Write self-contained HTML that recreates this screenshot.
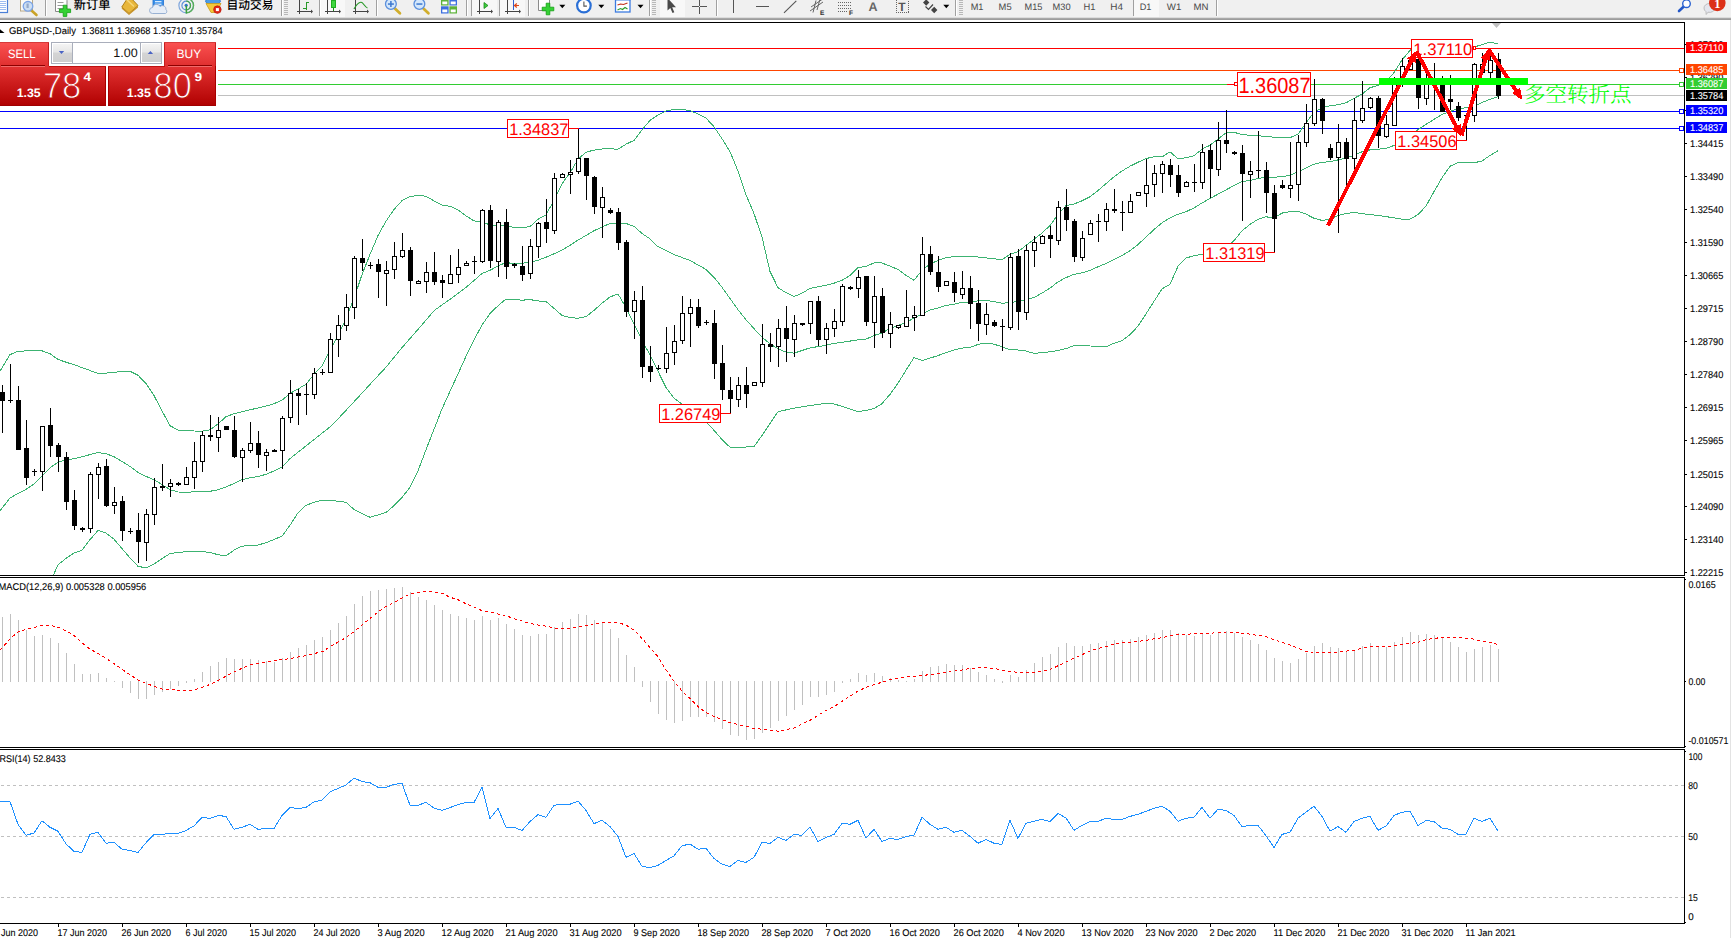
<!DOCTYPE html>
<html><head><meta charset="utf-8"><title>GBPUSD-,Daily</title><style>html,body{margin:0;padding:0;background:#fff;overflow:hidden}svg{display:block}</style></head><body>
<svg width="1731" height="938" viewBox="0 0 1731 938" font-family="'Liberation Sans', sans-serif" shape-rendering="crispEdges" text-rendering="geometricPrecision">
<defs><linearGradient id="gTab" x1="0" y1="0" x2="0" y2="1"><stop offset="0" stop-color="#fb5252"/><stop offset="1" stop-color="#df2e2e"/></linearGradient><linearGradient id="gBig" x1="0" y1="0" x2="0" y2="1"><stop offset="0" stop-color="#e23232"/><stop offset="1" stop-color="#b00000"/></linearGradient><linearGradient id="gBtn" x1="0" y1="0" x2="0" y2="1"><stop offset="0" stop-color="#f4f4f4"/><stop offset="0.45" stop-color="#e6e6e6"/><stop offset="0.5" stop-color="#d4d4d4"/><stop offset="1" stop-color="#cfcfcf"/></linearGradient><linearGradient id="gBigU" gradientUnits="userSpaceOnUse" x1="0" y1="66.4" x2="0" y2="106"><stop offset="0" stop-color="#e23232"/><stop offset="1" stop-color="#b00000"/></linearGradient><clipPath id="cMain"><rect x="0" y="23" width="1684" height="552"/></clipPath><clipPath id="cAll"><rect x="0" y="0" width="1731" height="938"/></clipPath></defs>
<rect width="1731" height="938" fill="#fff"/>
<g clip-path="url(#cMain)">
<rect x="0" y="48" width="1684" height="1" fill="#ff0000"/>
<rect x="0" y="70" width="1684" height="1" fill="#ff4500"/>
<rect x="0" y="84" width="1684" height="1" fill="#32cd32"/>
<rect x="0" y="95" width="1684" height="1" fill="#c0c0c0"/>
<rect x="0" y="111" width="1684" height="1" fill="#0000ff"/>
<rect x="0" y="128" width="1684" height="1" fill="#0000ff"/>
<polyline fill="none" stroke="#3cb371" stroke-width="1" points="0.0,371.1 2.0,367.8 10.0,354.6 18.0,351.3 26.0,350.9 34.0,350.5 42.0,350.8 50.0,353.7 58.0,359.4 66.0,362.2 74.0,364.7 82.0,367.6 90.0,370.5 98.0,373.5 106.0,373.1 114.0,372.2 122.0,371.7 130.0,371.3 138.0,375.2 146.0,383.6 154.0,395.6 162.0,410.9 170.0,425.7 178.0,430.1 186.0,430.7 194.0,431.0 202.0,431.2 210.0,429.8 218.0,424.0 226.0,416.7 234.0,413.7 242.0,411.7 250.0,409.8 258.0,408.0 266.0,406.1 274.0,403.7 282.0,400.2 290.0,393.4 298.0,389.0 306.0,384.3 314.0,374.3 322.0,366.0 330.0,350.6 338.0,335.7 346.0,318.6 354.0,298.2 362.0,274.7 370.0,254.4 378.0,235.6 386.0,221.2 394.0,209.5 402.0,200.6 410.0,196.6 418.0,195.3 426.0,196.3 434.0,200.8 442.0,205.2 450.0,206.3 458.0,209.8 466.0,215.8 474.0,220.9 482.0,222.1 490.0,224.9 498.0,225.3 506.0,225.7 514.0,227.5 522.0,227.6 530.0,226.6 538.0,219.3 546.0,214.9 554.0,200.2 562.0,183.8 570.0,172.8 578.0,159.3 586.0,152.2 594.0,150.1 602.0,149.0 610.0,148.9 618.0,149.1 626.0,144.2 634.0,140.4 642.0,129.9 650.0,120.4 658.0,114.9 666.0,111.1 674.0,109.4 682.0,109.2 690.0,110.7 698.0,113.8 706.0,118.1 714.0,126.7 722.0,138.7 730.0,151.7 738.0,171.0 746.0,194.7 754.0,213.6 762.0,237.0 770.0,271.4 778.0,287.7 786.0,292.7 794.0,296.5 802.0,293.2 810.0,288.4 818.0,286.9 826.0,285.2 834.0,283.2 842.0,280.3 850.0,275.5 858.0,267.7 866.0,266.4 874.0,262.9 882.0,263.0 890.0,266.1 898.0,269.4 906.0,275.3 914.0,280.3 922.0,270.4 930.0,264.1 938.0,260.4 946.0,257.8 954.0,256.6 962.0,256.2 970.0,256.4 978.0,257.0 986.0,257.9 994.0,258.8 1002.0,259.8 1010.0,254.3 1018.0,251.6 1026.0,245.5 1034.0,239.3 1042.0,233.0 1050.0,225.6 1058.0,214.5 1066.0,205.6 1074.0,204.0 1082.0,200.8 1090.0,196.7 1098.0,190.5 1106.0,183.6 1114.0,176.8 1122.0,171.0 1130.0,166.2 1138.0,162.3 1146.0,158.6 1154.0,156.7 1162.0,157.0 1170.0,151.8 1178.0,158.8 1186.0,157.8 1194.0,155.8 1202.0,149.1 1210.0,145.3 1218.0,139.1 1226.0,132.8 1234.0,132.2 1242.0,134.7 1250.0,135.2 1258.0,135.7 1266.0,136.5 1274.0,137.2 1282.0,137.7 1290.0,137.7 1298.0,134.1 1306.0,123.2 1314.0,111.9 1322.0,107.8 1330.0,105.8 1338.0,104.7 1346.0,102.8 1354.0,98.4 1362.0,94.1 1370.0,87.7 1378.0,85.5 1386.0,81.5 1394.0,72.6 1402.0,60.0 1410.0,50.3 1418.0,45.7 1426.0,44.4 1434.0,44.8 1442.0,45.3 1450.0,45.7 1458.0,46.2 1466.0,46.7 1474.0,47.1 1482.0,44.6 1490.0,42.2 1498.0,43.9"/>
<polyline fill="none" stroke="#3cb371" stroke-width="1" points="0.0,510.9 2.0,508.3 10.0,497.9 18.0,493.6 26.0,489.3 34.0,483.9 42.0,475.9 50.0,467.9 58.0,462.2 66.0,459.9 74.0,458.7 82.0,456.7 90.0,454.6 98.0,452.5 106.0,453.7 114.0,456.7 122.0,461.4 130.0,466.4 138.0,472.3 146.0,476.4 154.0,479.8 162.0,484.5 170.0,489.6 178.0,492.0 186.0,492.2 194.0,491.9 202.0,491.6 210.0,491.3 218.0,489.8 226.0,486.9 234.0,483.5 242.0,479.7 250.0,477.8 258.0,476.6 266.0,474.3 274.0,471.0 282.0,467.2 290.0,458.6 330.0,426.9 338.0,418.9 346.0,410.4 354.0,401.8 362.0,393.1 370.0,384.4 378.0,375.8 386.0,367.2 394.0,357.4 402.0,347.6 410.0,338.5 418.0,329.4 426.0,320.1 434.0,310.7 442.0,304.9 450.0,299.3 458.0,293.3 466.0,287.3 474.0,280.6 482.0,273.5 490.0,270.3 498.0,266.0 506.0,262.4 514.0,263.8 522.0,263.3 530.0,262.2 538.0,260.3 546.0,257.2 554.0,253.8 562.0,250.1 570.0,245.4 578.0,240.1 586.0,235.5 594.0,230.8 602.0,226.9 610.0,223.6 618.0,222.8 626.0,223.5 634.0,226.3 642.0,233.4 650.0,238.9 658.0,246.7 666.0,250.5 674.0,254.5 682.0,257.5 690.0,260.5 698.0,264.9 706.0,269.4 714.0,277.3 722.0,287.3 730.0,298.5 738.0,309.7 746.0,319.8 754.0,328.6 762.0,337.3 770.0,343.7 778.0,348.8 786.0,352.1 794.0,353.2 802.0,350.5 810.0,347.9 818.0,346.6 826.0,345.3 834.0,343.4 842.0,342.3 850.0,341.1 858.0,339.8 866.0,339.1 874.0,335.5 882.0,332.9 890.0,328.5 898.0,325.5 906.0,322.5 914.0,318.0 922.0,314.2 930.0,310.0 938.0,307.9 946.0,305.5 954.0,304.2 962.0,302.4 970.0,302.4 978.0,300.9 986.0,300.4 994.0,301.6 1002.0,303.3 1010.0,302.4 1018.0,301.7 1026.0,300.0 1034.0,297.5 1042.0,293.1 1050.0,288.1 1058.0,281.9 1066.0,277.6 1074.0,274.3 1082.0,272.9 1090.0,270.5 1098.0,266.8 1106.0,263.5 1114.0,259.3 1122.0,255.6 1130.0,250.7 1138.0,244.5 1146.0,237.1 1154.0,229.6 1162.0,222.8 1170.0,217.9 1178.0,214.2 1186.0,211.7 1194.0,207.9 1202.0,203.0 1210.0,198.5 1218.0,194.2 1226.0,189.9 1234.0,185.5 1242.0,181.7 1250.0,180.4 1258.0,178.4 1266.0,177.4 1274.0,177.3 1282.0,176.6 1290.0,175.4 1298.0,171.7 1306.0,168.0 1314.0,164.2 1322.0,162.4 1330.0,161.6 1338.0,159.9 1346.0,157.9 1354.0,155.4 1362.0,151.8 1370.0,149.9 1378.0,149.3 1386.0,148.3 1394.0,145.5 1402.0,141.8 1410.0,136.9 1418.0,129.6 1426.0,124.4 1434.0,119.4 1442.0,114.4 1450.0,111.6 1458.0,108.5 1466.0,107.8 1474.0,106.0 1482.0,102.6 1490.0,99.2 1498.0,96.7"/>
<polyline fill="none" stroke="#3cb371" stroke-width="1" points="50.0,582.6 58.0,564.9 66.0,558.4 74.0,552.9 82.0,550.3 90.0,539.6 98.0,530.5 106.0,533.0 114.0,539.2 122.0,548.5 130.0,558.0 138.0,566.3 146.0,567.9 154.0,563.9 162.0,558.7 170.0,553.5 178.0,552.6 186.0,551.7 194.0,551.3 202.0,551.4 210.0,552.5 218.0,554.7 226.0,555.8 234.0,550.2 242.0,546.1 250.0,545.7 258.0,545.0 266.0,542.7 274.0,539.5 282.0,536.1 290.0,525.3 298.0,512.7 306.0,505.3 314.0,502.4 322.0,500.2 330.0,500.5 338.0,501.2 346.0,502.2 354.0,509.5 362.0,513.7 370.0,517.2 378.0,515.0 386.0,512.5 394.0,505.7 402.0,497.6 410.0,487.2 418.0,470.9 426.0,449.7 442.0,408.9 450.0,391.4 458.0,373.9 466.0,356.4 474.0,340.0 482.0,325.0 490.0,313.5 498.0,305.8 506.0,299.0 514.0,299.5 522.0,300.2 530.0,299.6 538.0,300.9 546.0,301.5 554.0,308.4 562.0,315.4 570.0,317.6 578.0,318.3 586.0,316.6 594.0,310.4 602.0,303.1 610.0,297.0 618.0,293.9 626.0,307.6 634.0,323.8 642.0,340.1 650.0,355.1 658.0,371.3 666.0,387.6 674.0,398.2 682.0,404.0 690.0,410.2 698.0,416.2 706.0,422.0 714.0,430.3 722.0,439.6 730.0,447.2 738.0,447.3 746.0,447.0 754.0,446.8 762.0,435.4 770.0,423.6 778.0,411.7 786.0,409.9 794.0,408.2 802.0,406.8 810.0,405.5 818.0,404.4 826.0,403.4 834.0,404.0 842.0,406.3 850.0,409.0 858.0,411.6 866.0,410.4 874.0,408.6 882.0,403.6 890.0,394.4 898.0,383.2 906.0,370.2 914.0,357.6 922.0,360.5 930.0,358.1 938.0,355.6 946.0,352.6 954.0,350.1 962.0,348.1 970.0,347.5 978.0,344.4 986.0,343.0 994.0,344.2 1002.0,346.7 1010.0,349.9 1018.0,350.0 1026.0,351.0 1034.0,353.4 1042.0,352.6 1050.0,351.8 1058.0,350.6 1066.0,348.6 1074.0,345.7 1082.0,345.5 1090.0,346.0 1098.0,346.2 1106.0,346.7 1114.0,343.3 1122.0,340.7 1130.0,334.7 1138.0,326.1 1146.0,313.9 1154.0,301.4 1162.0,288.9 1170.0,284.4 1178.0,266.3 1186.0,258.1 1194.0,255.6 1202.0,254.3 1210.0,253.5 1218.0,252.5 1226.0,248.1 1234.0,240.7 1242.0,230.7 1250.0,224.4 1258.0,219.3 1266.0,216.8 1274.0,217.9 1282.0,213.1 1290.0,211.7 1298.0,211.2 1306.0,214.1 1314.0,218.3 1322.0,220.4 1330.0,219.3 1338.0,215.6 1346.0,213.5 1354.0,212.5 1362.0,213.6 1370.0,214.6 1378.0,215.4 1386.0,216.6 1394.0,217.9 1402.0,219.1 1410.0,219.2 1418.0,214.6 1426.0,206.1 1434.0,191.6 1442.0,177.8 1450.0,166.3 1458.0,162.6 1466.0,162.1 1474.0,162.8 1482.0,161.0 1490.0,155.4 1498.0,150.7"/>
<rect x="2" y="385" width="1" height="48" fill="#000"/>
<rect x="0" y="392" width="5" height="9" fill="#000"/>
<rect x="10" y="364" width="1" height="39" fill="#000"/>
<rect x="8" y="400" width="5" height="1" fill="#000"/>
<rect x="18" y="386" width="1" height="64" fill="#000"/>
<rect x="16" y="400" width="5" height="50" fill="#000"/>
<rect x="26" y="420" width="1" height="65" fill="#000"/>
<rect x="24" y="448" width="5" height="30" fill="#000"/>
<rect x="34" y="469" width="1" height="7" fill="#000"/>
<rect x="32" y="471" width="5" height="1" fill="#000"/>
<rect x="42" y="426" width="1" height="65" fill="#000"/>
<rect x="40" y="426" width="5" height="46" fill="#000"/>
<rect x="41" y="427" width="3" height="44" fill="#fff"/>
<rect x="50" y="408" width="1" height="49" fill="#000"/>
<rect x="48" y="425" width="5" height="21" fill="#000"/>
<rect x="58" y="443" width="1" height="29" fill="#000"/>
<rect x="56" y="445" width="5" height="12" fill="#000"/>
<rect x="66" y="452" width="1" height="58" fill="#000"/>
<rect x="64" y="457" width="5" height="45" fill="#000"/>
<rect x="74" y="490" width="1" height="40" fill="#000"/>
<rect x="72" y="500" width="5" height="26" fill="#000"/>
<rect x="82" y="527" width="1" height="5" fill="#000"/>
<rect x="80" y="528" width="5" height="2" fill="#000"/>
<rect x="90" y="472" width="1" height="61" fill="#000"/>
<rect x="88" y="474" width="5" height="55" fill="#000"/>
<rect x="89" y="475" width="3" height="53" fill="#fff"/>
<rect x="98" y="463" width="1" height="36" fill="#000"/>
<rect x="96" y="467" width="5" height="8" fill="#000"/>
<rect x="97" y="468" width="3" height="6" fill="#fff"/>
<rect x="106" y="459" width="1" height="48" fill="#000"/>
<rect x="104" y="466" width="5" height="40" fill="#000"/>
<rect x="114" y="487" width="1" height="27" fill="#000"/>
<rect x="112" y="502" width="5" height="4" fill="#000"/>
<rect x="113" y="503" width="3" height="2" fill="#fff"/>
<rect x="122" y="496" width="1" height="45" fill="#000"/>
<rect x="120" y="501" width="5" height="30" fill="#000"/>
<rect x="130" y="528" width="1" height="6" fill="#000"/>
<rect x="128" y="531" width="5" height="1" fill="#000"/>
<rect x="138" y="513" width="1" height="50" fill="#000"/>
<rect x="136" y="530" width="5" height="12" fill="#000"/>
<rect x="146" y="509" width="1" height="52" fill="#000"/>
<rect x="144" y="514" width="5" height="29" fill="#000"/>
<rect x="145" y="515" width="3" height="27" fill="#fff"/>
<rect x="154" y="478" width="1" height="47" fill="#000"/>
<rect x="152" y="487" width="5" height="28" fill="#000"/>
<rect x="153" y="488" width="3" height="26" fill="#fff"/>
<rect x="162" y="464" width="1" height="27" fill="#000"/>
<rect x="160" y="486" width="5" height="2" fill="#000"/>
<rect x="170" y="479" width="1" height="18" fill="#000"/>
<rect x="168" y="483" width="5" height="4" fill="#000"/>
<rect x="169" y="484" width="3" height="2" fill="#fff"/>
<rect x="178" y="482" width="1" height="4" fill="#000"/>
<rect x="176" y="483" width="5" height="2" fill="#000"/>
<rect x="186" y="467" width="1" height="18" fill="#000"/>
<rect x="184" y="477" width="5" height="8" fill="#000"/>
<rect x="185" y="478" width="3" height="6" fill="#fff"/>
<rect x="194" y="442" width="1" height="47" fill="#000"/>
<rect x="192" y="461" width="5" height="17" fill="#000"/>
<rect x="193" y="462" width="3" height="15" fill="#fff"/>
<rect x="202" y="431" width="1" height="41" fill="#000"/>
<rect x="200" y="435" width="5" height="27" fill="#000"/>
<rect x="201" y="436" width="3" height="25" fill="#fff"/>
<rect x="210" y="415" width="1" height="26" fill="#000"/>
<rect x="208" y="435" width="5" height="2" fill="#000"/>
<rect x="218" y="417" width="1" height="35" fill="#000"/>
<rect x="216" y="430" width="5" height="8" fill="#000"/>
<rect x="217" y="431" width="3" height="6" fill="#fff"/>
<rect x="226" y="426" width="1" height="4" fill="#000"/>
<rect x="224" y="426" width="5" height="4" fill="#000"/>
<rect x="234" y="416" width="1" height="42" fill="#000"/>
<rect x="232" y="430" width="5" height="27" fill="#000"/>
<rect x="242" y="448" width="1" height="34" fill="#000"/>
<rect x="240" y="450" width="5" height="8" fill="#000"/>
<rect x="241" y="451" width="3" height="6" fill="#fff"/>
<rect x="250" y="422" width="1" height="31" fill="#000"/>
<rect x="248" y="443" width="5" height="8" fill="#000"/>
<rect x="249" y="444" width="3" height="6" fill="#fff"/>
<rect x="258" y="431" width="1" height="37" fill="#000"/>
<rect x="256" y="443" width="5" height="12" fill="#000"/>
<rect x="266" y="449" width="1" height="22" fill="#000"/>
<rect x="264" y="452" width="5" height="4" fill="#000"/>
<rect x="265" y="453" width="3" height="2" fill="#fff"/>
<rect x="274" y="449" width="1" height="3" fill="#000"/>
<rect x="272" y="450" width="5" height="2" fill="#000"/>
<rect x="282" y="416" width="1" height="53" fill="#000"/>
<rect x="280" y="418" width="5" height="33" fill="#000"/>
<rect x="281" y="419" width="3" height="31" fill="#fff"/>
<rect x="290" y="380" width="1" height="43" fill="#000"/>
<rect x="288" y="393" width="5" height="25" fill="#000"/>
<rect x="289" y="394" width="3" height="23" fill="#fff"/>
<rect x="298" y="389" width="1" height="36" fill="#000"/>
<rect x="296" y="393" width="5" height="3" fill="#000"/>
<rect x="306" y="383" width="1" height="32" fill="#000"/>
<rect x="304" y="394" width="5" height="1" fill="#000"/>
<rect x="314" y="368" width="1" height="31" fill="#000"/>
<rect x="312" y="373" width="5" height="22" fill="#000"/>
<rect x="313" y="374" width="3" height="20" fill="#fff"/>
<rect x="322" y="369" width="1" height="6" fill="#000"/>
<rect x="320" y="372" width="5" height="1" fill="#000"/>
<rect x="330" y="333" width="1" height="39" fill="#000"/>
<rect x="328" y="339" width="5" height="34" fill="#000"/>
<rect x="329" y="340" width="3" height="32" fill="#fff"/>
<rect x="338" y="315" width="1" height="42" fill="#000"/>
<rect x="336" y="325" width="5" height="15" fill="#000"/>
<rect x="337" y="326" width="3" height="13" fill="#fff"/>
<rect x="346" y="294" width="1" height="37" fill="#000"/>
<rect x="344" y="307" width="5" height="19" fill="#000"/>
<rect x="345" y="308" width="3" height="17" fill="#fff"/>
<rect x="354" y="256" width="1" height="63" fill="#000"/>
<rect x="352" y="258" width="5" height="50" fill="#000"/>
<rect x="353" y="259" width="3" height="48" fill="#fff"/>
<rect x="362" y="239" width="1" height="32" fill="#000"/>
<rect x="360" y="258" width="5" height="5" fill="#000"/>
<rect x="370" y="262" width="1" height="7" fill="#000"/>
<rect x="368" y="265" width="5" height="1" fill="#000"/>
<rect x="378" y="259" width="1" height="39" fill="#000"/>
<rect x="376" y="264" width="5" height="8" fill="#000"/>
<rect x="386" y="261" width="1" height="45" fill="#000"/>
<rect x="384" y="270" width="5" height="4" fill="#000"/>
<rect x="385" y="271" width="3" height="2" fill="#fff"/>
<rect x="394" y="242" width="1" height="37" fill="#000"/>
<rect x="392" y="256" width="5" height="14" fill="#000"/>
<rect x="393" y="257" width="3" height="12" fill="#fff"/>
<rect x="402" y="233" width="1" height="25" fill="#000"/>
<rect x="400" y="250" width="5" height="7" fill="#000"/>
<rect x="401" y="251" width="3" height="5" fill="#fff"/>
<rect x="410" y="247" width="1" height="49" fill="#000"/>
<rect x="408" y="250" width="5" height="31" fill="#000"/>
<rect x="418" y="280" width="1" height="3" fill="#000"/>
<rect x="416" y="281" width="5" height="3" fill="#000"/>
<rect x="417" y="282" width="3" height="1" fill="#fff"/>
<rect x="426" y="262" width="1" height="31" fill="#000"/>
<rect x="424" y="272" width="5" height="10" fill="#000"/>
<rect x="425" y="273" width="3" height="8" fill="#fff"/>
<rect x="434" y="252" width="1" height="33" fill="#000"/>
<rect x="432" y="272" width="5" height="10" fill="#000"/>
<rect x="442" y="275" width="1" height="23" fill="#000"/>
<rect x="440" y="280" width="5" height="3" fill="#000"/>
<rect x="450" y="255" width="1" height="29" fill="#000"/>
<rect x="448" y="274" width="5" height="10" fill="#000"/>
<rect x="449" y="275" width="3" height="8" fill="#fff"/>
<rect x="458" y="249" width="1" height="34" fill="#000"/>
<rect x="456" y="267" width="5" height="8" fill="#000"/>
<rect x="457" y="268" width="3" height="6" fill="#fff"/>
<rect x="466" y="261" width="1" height="5" fill="#000"/>
<rect x="464" y="263" width="5" height="3" fill="#000"/>
<rect x="465" y="264" width="3" height="1" fill="#fff"/>
<rect x="474" y="256" width="1" height="18" fill="#000"/>
<rect x="472" y="261" width="5" height="1" fill="#000"/>
<rect x="482" y="209" width="1" height="54" fill="#000"/>
<rect x="480" y="210" width="5" height="52" fill="#000"/>
<rect x="481" y="211" width="3" height="50" fill="#fff"/>
<rect x="490" y="205" width="1" height="63" fill="#000"/>
<rect x="488" y="210" width="5" height="51" fill="#000"/>
<rect x="498" y="220" width="1" height="57" fill="#000"/>
<rect x="496" y="222" width="5" height="40" fill="#000"/>
<rect x="497" y="223" width="3" height="38" fill="#fff"/>
<rect x="506" y="209" width="1" height="70" fill="#000"/>
<rect x="504" y="222" width="5" height="45" fill="#000"/>
<rect x="514" y="263" width="1" height="5" fill="#000"/>
<rect x="512" y="264" width="5" height="2" fill="#000"/>
<rect x="522" y="246" width="1" height="35" fill="#000"/>
<rect x="520" y="266" width="5" height="9" fill="#000"/>
<rect x="530" y="239" width="1" height="40" fill="#000"/>
<rect x="528" y="246" width="5" height="28" fill="#000"/>
<rect x="529" y="247" width="3" height="26" fill="#fff"/>
<rect x="538" y="222" width="1" height="36" fill="#000"/>
<rect x="536" y="223" width="5" height="24" fill="#000"/>
<rect x="537" y="224" width="3" height="22" fill="#fff"/>
<rect x="546" y="199" width="1" height="44" fill="#000"/>
<rect x="544" y="222" width="5" height="7" fill="#000"/>
<rect x="554" y="173" width="1" height="61" fill="#000"/>
<rect x="552" y="178" width="5" height="53" fill="#000"/>
<rect x="553" y="179" width="3" height="51" fill="#fff"/>
<rect x="562" y="173" width="1" height="5" fill="#000"/>
<rect x="560" y="174" width="5" height="4" fill="#000"/>
<rect x="561" y="175" width="3" height="2" fill="#fff"/>
<rect x="570" y="160" width="1" height="34" fill="#000"/>
<rect x="568" y="172" width="5" height="3" fill="#000"/>
<rect x="569" y="173" width="3" height="1" fill="#fff"/>
<rect x="578" y="129" width="1" height="45" fill="#000"/>
<rect x="576" y="158" width="5" height="14" fill="#000"/>
<rect x="577" y="159" width="3" height="12" fill="#fff"/>
<rect x="586" y="158" width="1" height="42" fill="#000"/>
<rect x="584" y="158" width="5" height="18" fill="#000"/>
<rect x="594" y="176" width="1" height="38" fill="#000"/>
<rect x="592" y="177" width="5" height="30" fill="#000"/>
<rect x="602" y="187" width="1" height="51" fill="#000"/>
<rect x="600" y="197" width="5" height="11" fill="#000"/>
<rect x="601" y="198" width="3" height="9" fill="#fff"/>
<rect x="610" y="208" width="1" height="6" fill="#000"/>
<rect x="608" y="210" width="5" height="3" fill="#000"/>
<rect x="618" y="208" width="1" height="42" fill="#000"/>
<rect x="616" y="212" width="5" height="31" fill="#000"/>
<rect x="626" y="240" width="1" height="77" fill="#000"/>
<rect x="624" y="242" width="5" height="70" fill="#000"/>
<rect x="634" y="291" width="1" height="48" fill="#000"/>
<rect x="632" y="300" width="5" height="12" fill="#000"/>
<rect x="633" y="301" width="3" height="10" fill="#fff"/>
<rect x="642" y="286" width="1" height="92" fill="#000"/>
<rect x="640" y="300" width="5" height="67" fill="#000"/>
<rect x="650" y="346" width="1" height="36" fill="#000"/>
<rect x="648" y="366" width="5" height="6" fill="#000"/>
<rect x="658" y="365" width="1" height="5" fill="#000"/>
<rect x="656" y="368" width="5" height="1" fill="#000"/>
<rect x="666" y="327" width="1" height="46" fill="#000"/>
<rect x="664" y="353" width="5" height="16" fill="#000"/>
<rect x="665" y="354" width="3" height="14" fill="#fff"/>
<rect x="674" y="325" width="1" height="40" fill="#000"/>
<rect x="672" y="341" width="5" height="12" fill="#000"/>
<rect x="673" y="342" width="3" height="10" fill="#fff"/>
<rect x="682" y="296" width="1" height="48" fill="#000"/>
<rect x="680" y="313" width="5" height="28" fill="#000"/>
<rect x="681" y="314" width="3" height="26" fill="#fff"/>
<rect x="690" y="299" width="1" height="48" fill="#000"/>
<rect x="688" y="307" width="5" height="7" fill="#000"/>
<rect x="689" y="308" width="3" height="5" fill="#fff"/>
<rect x="698" y="299" width="1" height="29" fill="#000"/>
<rect x="696" y="307" width="5" height="19" fill="#000"/>
<rect x="706" y="320" width="1" height="5" fill="#000"/>
<rect x="704" y="322" width="5" height="1" fill="#000"/>
<rect x="714" y="310" width="1" height="69" fill="#000"/>
<rect x="712" y="323" width="5" height="41" fill="#000"/>
<rect x="722" y="345" width="1" height="55" fill="#000"/>
<rect x="720" y="363" width="5" height="27" fill="#000"/>
<rect x="730" y="377" width="1" height="36" fill="#000"/>
<rect x="728" y="390" width="5" height="9" fill="#000"/>
<rect x="738" y="377" width="1" height="30" fill="#000"/>
<rect x="736" y="385" width="5" height="15" fill="#000"/>
<rect x="737" y="386" width="3" height="13" fill="#fff"/>
<rect x="746" y="367" width="1" height="41" fill="#000"/>
<rect x="744" y="385" width="5" height="9" fill="#000"/>
<rect x="754" y="382" width="1" height="4" fill="#000"/>
<rect x="752" y="382" width="5" height="4" fill="#000"/>
<rect x="753" y="383" width="3" height="2" fill="#fff"/>
<rect x="762" y="324" width="1" height="63" fill="#000"/>
<rect x="760" y="344" width="5" height="39" fill="#000"/>
<rect x="761" y="345" width="3" height="37" fill="#fff"/>
<rect x="770" y="333" width="1" height="29" fill="#000"/>
<rect x="768" y="344" width="5" height="3" fill="#000"/>
<rect x="778" y="319" width="1" height="48" fill="#000"/>
<rect x="776" y="328" width="5" height="19" fill="#000"/>
<rect x="777" y="329" width="3" height="17" fill="#fff"/>
<rect x="786" y="306" width="1" height="56" fill="#000"/>
<rect x="784" y="328" width="5" height="11" fill="#000"/>
<rect x="794" y="315" width="1" height="42" fill="#000"/>
<rect x="792" y="323" width="5" height="17" fill="#000"/>
<rect x="793" y="324" width="3" height="15" fill="#fff"/>
<rect x="802" y="323" width="1" height="3" fill="#000"/>
<rect x="800" y="323" width="5" height="2" fill="#000"/>
<rect x="810" y="301" width="1" height="33" fill="#000"/>
<rect x="808" y="301" width="5" height="23" fill="#000"/>
<rect x="809" y="302" width="3" height="21" fill="#fff"/>
<rect x="818" y="296" width="1" height="50" fill="#000"/>
<rect x="816" y="301" width="5" height="39" fill="#000"/>
<rect x="826" y="323" width="1" height="31" fill="#000"/>
<rect x="824" y="328" width="5" height="12" fill="#000"/>
<rect x="825" y="329" width="3" height="10" fill="#fff"/>
<rect x="834" y="309" width="1" height="28" fill="#000"/>
<rect x="832" y="321" width="5" height="8" fill="#000"/>
<rect x="833" y="322" width="3" height="6" fill="#fff"/>
<rect x="842" y="284" width="1" height="42" fill="#000"/>
<rect x="840" y="286" width="5" height="36" fill="#000"/>
<rect x="841" y="287" width="3" height="34" fill="#fff"/>
<rect x="850" y="286" width="1" height="4" fill="#000"/>
<rect x="848" y="287" width="5" height="2" fill="#000"/>
<rect x="858" y="270" width="1" height="28" fill="#000"/>
<rect x="856" y="277" width="5" height="12" fill="#000"/>
<rect x="857" y="278" width="3" height="10" fill="#fff"/>
<rect x="866" y="276" width="1" height="50" fill="#000"/>
<rect x="864" y="276" width="5" height="46" fill="#000"/>
<rect x="874" y="276" width="1" height="72" fill="#000"/>
<rect x="872" y="296" width="5" height="27" fill="#000"/>
<rect x="873" y="297" width="3" height="25" fill="#fff"/>
<rect x="882" y="288" width="1" height="50" fill="#000"/>
<rect x="880" y="296" width="5" height="37" fill="#000"/>
<rect x="890" y="312" width="1" height="36" fill="#000"/>
<rect x="888" y="324" width="5" height="10" fill="#000"/>
<rect x="889" y="325" width="3" height="8" fill="#fff"/>
<rect x="898" y="325" width="1" height="4" fill="#000"/>
<rect x="896" y="325" width="5" height="3" fill="#000"/>
<rect x="897" y="326" width="3" height="1" fill="#fff"/>
<rect x="906" y="290" width="1" height="37" fill="#000"/>
<rect x="904" y="317" width="5" height="10" fill="#000"/>
<rect x="905" y="318" width="3" height="8" fill="#fff"/>
<rect x="914" y="306" width="1" height="25" fill="#000"/>
<rect x="912" y="315" width="5" height="3" fill="#000"/>
<rect x="913" y="316" width="3" height="1" fill="#fff"/>
<rect x="922" y="237" width="1" height="78" fill="#000"/>
<rect x="920" y="254" width="5" height="62" fill="#000"/>
<rect x="921" y="255" width="3" height="60" fill="#fff"/>
<rect x="930" y="246" width="1" height="29" fill="#000"/>
<rect x="928" y="254" width="5" height="18" fill="#000"/>
<rect x="938" y="256" width="1" height="36" fill="#000"/>
<rect x="936" y="272" width="5" height="15" fill="#000"/>
<rect x="946" y="281" width="1" height="4" fill="#000"/>
<rect x="944" y="281" width="5" height="5" fill="#000"/>
<rect x="945" y="282" width="3" height="3" fill="#fff"/>
<rect x="954" y="272" width="1" height="30" fill="#000"/>
<rect x="952" y="282" width="5" height="11" fill="#000"/>
<rect x="962" y="271" width="1" height="28" fill="#000"/>
<rect x="960" y="288" width="5" height="7" fill="#000"/>
<rect x="961" y="289" width="3" height="5" fill="#fff"/>
<rect x="970" y="276" width="1" height="53" fill="#000"/>
<rect x="968" y="288" width="5" height="16" fill="#000"/>
<rect x="978" y="290" width="1" height="51" fill="#000"/>
<rect x="976" y="303" width="5" height="21" fill="#000"/>
<rect x="986" y="303" width="1" height="32" fill="#000"/>
<rect x="984" y="314" width="5" height="11" fill="#000"/>
<rect x="985" y="315" width="3" height="9" fill="#fff"/>
<rect x="994" y="320" width="1" height="7" fill="#000"/>
<rect x="992" y="322" width="5" height="4" fill="#000"/>
<rect x="1002" y="319" width="1" height="32" fill="#000"/>
<rect x="1000" y="326" width="5" height="1" fill="#000"/>
<rect x="1010" y="253" width="1" height="77" fill="#000"/>
<rect x="1008" y="257" width="5" height="71" fill="#000"/>
<rect x="1009" y="258" width="3" height="69" fill="#fff"/>
<rect x="1018" y="249" width="1" height="81" fill="#000"/>
<rect x="1016" y="256" width="5" height="56" fill="#000"/>
<rect x="1026" y="245" width="1" height="75" fill="#000"/>
<rect x="1024" y="250" width="5" height="63" fill="#000"/>
<rect x="1025" y="251" width="3" height="61" fill="#fff"/>
<rect x="1034" y="236" width="1" height="31" fill="#000"/>
<rect x="1032" y="242" width="5" height="9" fill="#000"/>
<rect x="1033" y="243" width="3" height="7" fill="#fff"/>
<rect x="1042" y="235" width="1" height="9" fill="#000"/>
<rect x="1040" y="236" width="5" height="8" fill="#000"/>
<rect x="1041" y="237" width="3" height="6" fill="#fff"/>
<rect x="1050" y="226" width="1" height="32" fill="#000"/>
<rect x="1048" y="235" width="5" height="4" fill="#000"/>
<rect x="1058" y="201" width="1" height="44" fill="#000"/>
<rect x="1056" y="207" width="5" height="34" fill="#000"/>
<rect x="1057" y="208" width="3" height="32" fill="#fff"/>
<rect x="1066" y="189" width="1" height="42" fill="#000"/>
<rect x="1064" y="207" width="5" height="13" fill="#000"/>
<rect x="1074" y="219" width="1" height="43" fill="#000"/>
<rect x="1072" y="221" width="5" height="36" fill="#000"/>
<rect x="1082" y="231" width="1" height="30" fill="#000"/>
<rect x="1080" y="238" width="5" height="20" fill="#000"/>
<rect x="1081" y="239" width="3" height="18" fill="#fff"/>
<rect x="1090" y="220" width="1" height="15" fill="#000"/>
<rect x="1088" y="223" width="5" height="12" fill="#000"/>
<rect x="1089" y="224" width="3" height="10" fill="#fff"/>
<rect x="1098" y="214" width="1" height="28" fill="#000"/>
<rect x="1096" y="221" width="5" height="1" fill="#000"/>
<rect x="1106" y="203" width="1" height="28" fill="#000"/>
<rect x="1104" y="209" width="5" height="13" fill="#000"/>
<rect x="1105" y="210" width="3" height="11" fill="#fff"/>
<rect x="1114" y="189" width="1" height="24" fill="#000"/>
<rect x="1112" y="209" width="5" height="2" fill="#000"/>
<rect x="1122" y="201" width="1" height="30" fill="#000"/>
<rect x="1120" y="212" width="5" height="1" fill="#000"/>
<rect x="1130" y="194" width="1" height="19" fill="#000"/>
<rect x="1128" y="201" width="5" height="12" fill="#000"/>
<rect x="1129" y="202" width="3" height="10" fill="#fff"/>
<rect x="1138" y="192" width="1" height="4" fill="#000"/>
<rect x="1136" y="192" width="5" height="4" fill="#000"/>
<rect x="1137" y="193" width="3" height="2" fill="#fff"/>
<rect x="1146" y="159" width="1" height="48" fill="#000"/>
<rect x="1144" y="185" width="5" height="9" fill="#000"/>
<rect x="1145" y="186" width="3" height="7" fill="#fff"/>
<rect x="1154" y="165" width="1" height="32" fill="#000"/>
<rect x="1152" y="173" width="5" height="12" fill="#000"/>
<rect x="1153" y="174" width="3" height="10" fill="#fff"/>
<rect x="1162" y="161" width="1" height="32" fill="#000"/>
<rect x="1160" y="164" width="5" height="10" fill="#000"/>
<rect x="1161" y="165" width="3" height="8" fill="#fff"/>
<rect x="1170" y="159" width="1" height="28" fill="#000"/>
<rect x="1168" y="165" width="5" height="10" fill="#000"/>
<rect x="1178" y="165" width="1" height="32" fill="#000"/>
<rect x="1176" y="175" width="5" height="18" fill="#000"/>
<rect x="1186" y="181" width="1" height="6" fill="#000"/>
<rect x="1184" y="182" width="5" height="5" fill="#000"/>
<rect x="1185" y="183" width="3" height="3" fill="#fff"/>
<rect x="1194" y="164" width="1" height="28" fill="#000"/>
<rect x="1192" y="182" width="5" height="1" fill="#000"/>
<rect x="1202" y="144" width="1" height="45" fill="#000"/>
<rect x="1200" y="152" width="5" height="31" fill="#000"/>
<rect x="1201" y="153" width="3" height="29" fill="#fff"/>
<rect x="1210" y="144" width="1" height="54" fill="#000"/>
<rect x="1208" y="150" width="5" height="19" fill="#000"/>
<rect x="1218" y="122" width="1" height="54" fill="#000"/>
<rect x="1216" y="140" width="5" height="30" fill="#000"/>
<rect x="1217" y="141" width="3" height="28" fill="#fff"/>
<rect x="1226" y="110" width="1" height="43" fill="#000"/>
<rect x="1224" y="140" width="5" height="4" fill="#000"/>
<rect x="1234" y="151" width="1" height="4" fill="#000"/>
<rect x="1232" y="152" width="5" height="2" fill="#000"/>
<rect x="1242" y="145" width="1" height="76" fill="#000"/>
<rect x="1240" y="153" width="5" height="21" fill="#000"/>
<rect x="1250" y="161" width="1" height="37" fill="#000"/>
<rect x="1248" y="171" width="5" height="4" fill="#000"/>
<rect x="1249" y="172" width="3" height="2" fill="#fff"/>
<rect x="1258" y="131" width="1" height="47" fill="#000"/>
<rect x="1256" y="170" width="5" height="1" fill="#000"/>
<rect x="1266" y="162" width="1" height="51" fill="#000"/>
<rect x="1264" y="170" width="5" height="23" fill="#000"/>
<rect x="1274" y="185" width="1" height="67" fill="#000"/>
<rect x="1272" y="193" width="5" height="26" fill="#000"/>
<rect x="1282" y="180" width="1" height="9" fill="#000"/>
<rect x="1280" y="185" width="5" height="3" fill="#000"/>
<rect x="1290" y="142" width="1" height="56" fill="#000"/>
<rect x="1288" y="185" width="5" height="4" fill="#000"/>
<rect x="1289" y="186" width="3" height="2" fill="#fff"/>
<rect x="1298" y="135" width="1" height="66" fill="#000"/>
<rect x="1296" y="142" width="5" height="43" fill="#000"/>
<rect x="1297" y="143" width="3" height="41" fill="#fff"/>
<rect x="1306" y="104" width="1" height="43" fill="#000"/>
<rect x="1304" y="123" width="5" height="20" fill="#000"/>
<rect x="1305" y="124" width="3" height="18" fill="#fff"/>
<rect x="1314" y="79" width="1" height="47" fill="#000"/>
<rect x="1312" y="99" width="5" height="25" fill="#000"/>
<rect x="1313" y="100" width="3" height="23" fill="#fff"/>
<rect x="1322" y="98" width="1" height="36" fill="#000"/>
<rect x="1320" y="99" width="5" height="22" fill="#000"/>
<rect x="1330" y="144" width="1" height="16" fill="#000"/>
<rect x="1328" y="148" width="5" height="10" fill="#000"/>
<rect x="1338" y="124" width="1" height="109" fill="#000"/>
<rect x="1336" y="142" width="5" height="16" fill="#000"/>
<rect x="1337" y="143" width="3" height="14" fill="#fff"/>
<rect x="1346" y="138" width="1" height="55" fill="#000"/>
<rect x="1344" y="142" width="5" height="17" fill="#000"/>
<rect x="1354" y="98" width="1" height="71" fill="#000"/>
<rect x="1352" y="120" width="5" height="39" fill="#000"/>
<rect x="1353" y="121" width="3" height="37" fill="#fff"/>
<rect x="1362" y="81" width="1" height="42" fill="#000"/>
<rect x="1360" y="108" width="5" height="13" fill="#000"/>
<rect x="1361" y="109" width="3" height="11" fill="#fff"/>
<rect x="1370" y="97" width="1" height="12" fill="#000"/>
<rect x="1368" y="98" width="5" height="10" fill="#000"/>
<rect x="1369" y="99" width="3" height="8" fill="#fff"/>
<rect x="1378" y="96" width="1" height="52" fill="#000"/>
<rect x="1376" y="98" width="5" height="38" fill="#000"/>
<rect x="1386" y="115" width="1" height="23" fill="#000"/>
<rect x="1384" y="124" width="5" height="13" fill="#000"/>
<rect x="1385" y="125" width="3" height="11" fill="#fff"/>
<rect x="1394" y="77" width="1" height="48" fill="#000"/>
<rect x="1392" y="81" width="5" height="45" fill="#000"/>
<rect x="1393" y="82" width="3" height="43" fill="#fff"/>
<rect x="1402" y="58" width="1" height="29" fill="#000"/>
<rect x="1400" y="66" width="5" height="16" fill="#000"/>
<rect x="1401" y="67" width="3" height="14" fill="#fff"/>
<rect x="1410" y="59" width="1" height="11" fill="#000"/>
<rect x="1408" y="60" width="5" height="10" fill="#000"/>
<rect x="1409" y="61" width="3" height="8" fill="#fff"/>
<rect x="1418" y="56" width="1" height="53" fill="#000"/>
<rect x="1416" y="59" width="5" height="39" fill="#000"/>
<rect x="1426" y="73" width="1" height="32" fill="#000"/>
<rect x="1424" y="84" width="5" height="15" fill="#000"/>
<rect x="1425" y="85" width="3" height="13" fill="#fff"/>
<rect x="1434" y="63" width="1" height="47" fill="#000"/>
<rect x="1432" y="84" width="5" height="1" fill="#000"/>
<rect x="1442" y="76" width="1" height="36" fill="#000"/>
<rect x="1440" y="84" width="5" height="28" fill="#000"/>
<rect x="1450" y="75" width="1" height="35" fill="#000"/>
<rect x="1448" y="99" width="5" height="3" fill="#000"/>
<rect x="1458" y="102" width="1" height="19" fill="#000"/>
<rect x="1456" y="106" width="5" height="12" fill="#000"/>
<rect x="1466" y="113" width="1" height="27" fill="#000"/>
<rect x="1464" y="115" width="5" height="1" fill="#000"/>
<rect x="1474" y="63" width="1" height="59" fill="#000"/>
<rect x="1472" y="64" width="5" height="52" fill="#000"/>
<rect x="1473" y="65" width="3" height="50" fill="#fff"/>
<rect x="1482" y="53" width="1" height="19" fill="#000"/>
<rect x="1480" y="64" width="5" height="9" fill="#000"/>
<rect x="1481" y="65" width="3" height="7" fill="#fff"/>
<rect x="1490" y="49" width="1" height="30" fill="#000"/>
<rect x="1488" y="60" width="5" height="13" fill="#000"/>
<rect x="1489" y="61" width="3" height="11" fill="#fff"/>
<rect x="1498" y="53" width="1" height="46" fill="#000"/>
<rect x="1496" y="59" width="5" height="37" fill="#000"/>
</g>
<g clip-path="url(#cMain)">
<rect x="569" y="128" width="10" height="1" fill="#ff0000"/>
<rect x="507.5" y="119.5" width="61" height="18" fill="#fff" stroke="#ff0000" stroke-width="1"/>
<text x="509.2" y="135.0" font-size="16.7" fill="#ff0000" textLength="59.2" lengthAdjust="spacingAndGlyphs" >1.34837</text>
<rect x="721" y="413" width="10" height="1" fill="#ff0000"/>
<rect x="659.5" y="404.5" width="61" height="18" fill="#fff" stroke="#ff0000" stroke-width="1"/>
<text x="661.2" y="420.0" font-size="16.7" fill="#ff0000" textLength="59.3" lengthAdjust="spacingAndGlyphs" >1.26749</text>
<rect x="1265" y="252" width="10" height="1" fill="#ff0000"/>
<rect x="1203.5" y="243.5" width="61" height="18" fill="#fff" stroke="#ff0000" stroke-width="1"/>
<text x="1205.3" y="259.0" font-size="16.7" fill="#ff0000" textLength="59.2" lengthAdjust="spacingAndGlyphs" >1.31319</text>
<rect x="1227" y="84" width="8" height="1" fill="#ff0000"/>
<rect x="1234.5" y="82.5" width="3" height="3" fill="#fff" stroke="#ff0000"/>
<rect x="1237.5" y="72.5" width="73" height="24" fill="#fff" stroke="#ff0000" stroke-width="1"/>
<text x="1238.4" y="93.0" font-size="22" fill="#ff0000" textLength="72.2" lengthAdjust="spacingAndGlyphs" >1.36087</text>
<rect x="1411.5" y="39.5" width="61" height="18" fill="#fff" stroke="#ff0000" stroke-width="1"/>
<text x="1413.2" y="55.0" font-size="16.7" fill="#ff0000" textLength="59.2" lengthAdjust="spacingAndGlyphs" >1.37110</text>
<rect x="1473.5" y="46.5" width="2" height="3" fill="#fff" stroke="#ff0000"/>
<rect x="1457" y="140" width="10" height="1" fill="#ff0000"/>
<rect x="1395.5" y="131.5" width="61" height="18" fill="#fff" stroke="#ff0000" stroke-width="1"/>
<text x="1397.3" y="147.0" font-size="16.7" fill="#ff0000" textLength="59.2" lengthAdjust="spacingAndGlyphs" >1.34506</text>
</g>
<g shape-rendering="crispEdges" clip-path="url(#cMain)">
<line x1="1328.0" y1="225.6" x2="1415.1" y2="53.7" stroke="#ff0000" stroke-width="3.9"/>
<polygon points="1416.7,50.6 1415.9,63.1 1407.1,58.6" fill="#ff0000"/>
<line x1="1416.7" y1="51.7" x2="1459.9" y2="133.4" stroke="#ff0000" stroke-width="3.9"/>
<polygon points="1461.5,136.5 1451.8,128.6 1460.5,124.0" fill="#ff0000"/>
<line x1="1461.5" y1="135.5" x2="1487.9" y2="51.8" stroke="#ff0000" stroke-width="3.9"/>
<polygon points="1489.0,48.5 1490.2,60.9 1480.9,58.0" fill="#ff0000"/>
<line x1="1488.6" y1="49.2" x2="1520.4" y2="97.1" stroke="#ff0000" stroke-width="3.9"/>
<polygon points="1522.3,100.0 1511.9,93.1 1520.0,87.7" fill="#ff0000"/>
</g>
<rect x="1379" y="78" width="149" height="7" fill="#00ff00"/>
<text x="1524.0" y="101.5" font-size="21.4" fill="#00ff00" textLength="107.5" lengthAdjust="spacingAndGlyphs" font-weight="300" font-family="'Liberation Serif','Noto Serif CJK SC',serif" shape-rendering="geometricPrecision">多空转折点</text>
<polygon points="1492,23 1501,23 1496.5,28" fill="#c0c0c0" shape-rendering="geometricPrecision"/>
<g>
<rect x="2" y="617" width="1" height="65" fill="#c0c0c0"/>
<rect x="10" y="614" width="1" height="68" fill="#c0c0c0"/>
<rect x="18" y="620" width="1" height="62" fill="#c0c0c0"/>
<rect x="26" y="630" width="1" height="52" fill="#c0c0c0"/>
<rect x="34" y="636" width="1" height="46" fill="#c0c0c0"/>
<rect x="42" y="635" width="1" height="47" fill="#c0c0c0"/>
<rect x="50" y="638" width="1" height="44" fill="#c0c0c0"/>
<rect x="58" y="643" width="1" height="39" fill="#c0c0c0"/>
<rect x="66" y="653" width="1" height="29" fill="#c0c0c0"/>
<rect x="74" y="664" width="1" height="18" fill="#c0c0c0"/>
<rect x="82" y="674" width="1" height="8" fill="#c0c0c0"/>
<rect x="90" y="674" width="1" height="8" fill="#c0c0c0"/>
<rect x="98" y="673" width="1" height="9" fill="#c0c0c0"/>
<rect x="106" y="678" width="1" height="4" fill="#c0c0c0"/>
<rect x="114" y="681" width="1" height="1" fill="#c0c0c0"/>
<rect x="122" y="681" width="1" height="7" fill="#c0c0c0"/>
<rect x="130" y="681" width="1" height="12" fill="#c0c0c0"/>
<rect x="138" y="681" width="1" height="18" fill="#c0c0c0"/>
<rect x="146" y="681" width="1" height="18" fill="#c0c0c0"/>
<rect x="154" y="681" width="1" height="14" fill="#c0c0c0"/>
<rect x="162" y="681" width="1" height="11" fill="#c0c0c0"/>
<rect x="170" y="681" width="1" height="8" fill="#c0c0c0"/>
<rect x="178" y="681" width="1" height="5" fill="#c0c0c0"/>
<rect x="186" y="681" width="1" height="2" fill="#c0c0c0"/>
<rect x="194" y="679" width="1" height="3" fill="#c0c0c0"/>
<rect x="202" y="672" width="1" height="10" fill="#c0c0c0"/>
<rect x="210" y="666" width="1" height="16" fill="#c0c0c0"/>
<rect x="218" y="662" width="1" height="20" fill="#c0c0c0"/>
<rect x="226" y="658" width="1" height="24" fill="#c0c0c0"/>
<rect x="234" y="659" width="1" height="23" fill="#c0c0c0"/>
<rect x="242" y="659" width="1" height="23" fill="#c0c0c0"/>
<rect x="250" y="659" width="1" height="23" fill="#c0c0c0"/>
<rect x="258" y="660" width="1" height="22" fill="#c0c0c0"/>
<rect x="266" y="661" width="1" height="21" fill="#c0c0c0"/>
<rect x="274" y="662" width="1" height="20" fill="#c0c0c0"/>
<rect x="282" y="658" width="1" height="24" fill="#c0c0c0"/>
<rect x="290" y="652" width="1" height="30" fill="#c0c0c0"/>
<rect x="298" y="648" width="1" height="34" fill="#c0c0c0"/>
<rect x="306" y="645" width="1" height="37" fill="#c0c0c0"/>
<rect x="314" y="640" width="1" height="42" fill="#c0c0c0"/>
<rect x="322" y="637" width="1" height="45" fill="#c0c0c0"/>
<rect x="330" y="630" width="1" height="52" fill="#c0c0c0"/>
<rect x="338" y="623" width="1" height="59" fill="#c0c0c0"/>
<rect x="346" y="616" width="1" height="66" fill="#c0c0c0"/>
<rect x="354" y="604" width="1" height="78" fill="#c0c0c0"/>
<rect x="362" y="596" width="1" height="86" fill="#c0c0c0"/>
<rect x="370" y="591" width="1" height="91" fill="#c0c0c0"/>
<rect x="378" y="590" width="1" height="92" fill="#c0c0c0"/>
<rect x="386" y="589" width="1" height="93" fill="#c0c0c0"/>
<rect x="394" y="588" width="1" height="94" fill="#c0c0c0"/>
<rect x="402" y="587" width="1" height="95" fill="#c0c0c0"/>
<rect x="410" y="592" width="1" height="90" fill="#c0c0c0"/>
<rect x="418" y="597" width="1" height="85" fill="#c0c0c0"/>
<rect x="426" y="600" width="1" height="82" fill="#c0c0c0"/>
<rect x="434" y="605" width="1" height="77" fill="#c0c0c0"/>
<rect x="442" y="610" width="1" height="72" fill="#c0c0c0"/>
<rect x="450" y="614" width="1" height="68" fill="#c0c0c0"/>
<rect x="458" y="616" width="1" height="66" fill="#c0c0c0"/>
<rect x="466" y="618" width="1" height="64" fill="#c0c0c0"/>
<rect x="474" y="620" width="1" height="62" fill="#c0c0c0"/>
<rect x="482" y="616" width="1" height="66" fill="#c0c0c0"/>
<rect x="490" y="620" width="1" height="62" fill="#c0c0c0"/>
<rect x="498" y="618" width="1" height="64" fill="#c0c0c0"/>
<rect x="506" y="624" width="1" height="58" fill="#c0c0c0"/>
<rect x="514" y="629" width="1" height="53" fill="#c0c0c0"/>
<rect x="522" y="635" width="1" height="47" fill="#c0c0c0"/>
<rect x="530" y="636" width="1" height="46" fill="#c0c0c0"/>
<rect x="538" y="634" width="1" height="48" fill="#c0c0c0"/>
<rect x="546" y="634" width="1" height="48" fill="#c0c0c0"/>
<rect x="554" y="627" width="1" height="55" fill="#c0c0c0"/>
<rect x="562" y="622" width="1" height="60" fill="#c0c0c0"/>
<rect x="570" y="619" width="1" height="63" fill="#c0c0c0"/>
<rect x="578" y="614" width="1" height="68" fill="#c0c0c0"/>
<rect x="586" y="615" width="1" height="67" fill="#c0c0c0"/>
<rect x="594" y="620" width="1" height="62" fill="#c0c0c0"/>
<rect x="602" y="623" width="1" height="59" fill="#c0c0c0"/>
<rect x="610" y="629" width="1" height="53" fill="#c0c0c0"/>
<rect x="618" y="638" width="1" height="44" fill="#c0c0c0"/>
<rect x="626" y="655" width="1" height="27" fill="#c0c0c0"/>
<rect x="634" y="667" width="1" height="15" fill="#c0c0c0"/>
<rect x="642" y="681" width="1" height="6" fill="#c0c0c0"/>
<rect x="650" y="681" width="1" height="21" fill="#c0c0c0"/>
<rect x="658" y="681" width="1" height="33" fill="#c0c0c0"/>
<rect x="666" y="681" width="1" height="39" fill="#c0c0c0"/>
<rect x="674" y="681" width="1" height="42" fill="#c0c0c0"/>
<rect x="682" y="681" width="1" height="40" fill="#c0c0c0"/>
<rect x="690" y="681" width="1" height="36" fill="#c0c0c0"/>
<rect x="698" y="681" width="1" height="36" fill="#c0c0c0"/>
<rect x="706" y="681" width="1" height="36" fill="#c0c0c0"/>
<rect x="714" y="681" width="1" height="41" fill="#c0c0c0"/>
<rect x="722" y="681" width="1" height="48" fill="#c0c0c0"/>
<rect x="730" y="681" width="1" height="54" fill="#c0c0c0"/>
<rect x="738" y="681" width="1" height="55" fill="#c0c0c0"/>
<rect x="746" y="681" width="1" height="59" fill="#c0c0c0"/>
<rect x="754" y="681" width="1" height="58" fill="#c0c0c0"/>
<rect x="762" y="681" width="1" height="52" fill="#c0c0c0"/>
<rect x="770" y="681" width="1" height="47" fill="#c0c0c0"/>
<rect x="778" y="681" width="1" height="40" fill="#c0c0c0"/>
<rect x="786" y="681" width="1" height="35" fill="#c0c0c0"/>
<rect x="794" y="681" width="1" height="29" fill="#c0c0c0"/>
<rect x="802" y="681" width="1" height="24" fill="#c0c0c0"/>
<rect x="810" y="681" width="1" height="16" fill="#c0c0c0"/>
<rect x="818" y="681" width="1" height="16" fill="#c0c0c0"/>
<rect x="826" y="681" width="1" height="14" fill="#c0c0c0"/>
<rect x="834" y="681" width="1" height="11" fill="#c0c0c0"/>
<rect x="842" y="681" width="1" height="2" fill="#c0c0c0"/>
<rect x="850" y="679" width="1" height="3" fill="#c0c0c0"/>
<rect x="858" y="673" width="1" height="9" fill="#c0c0c0"/>
<rect x="866" y="675" width="1" height="7" fill="#c0c0c0"/>
<rect x="874" y="673" width="1" height="9" fill="#c0c0c0"/>
<rect x="882" y="676" width="1" height="6" fill="#c0c0c0"/>
<rect x="890" y="678" width="1" height="4" fill="#c0c0c0"/>
<rect x="898" y="680" width="1" height="2" fill="#c0c0c0"/>
<rect x="906" y="681" width="1" height="1" fill="#c0c0c0"/>
<rect x="914" y="679" width="1" height="3" fill="#c0c0c0"/>
<rect x="922" y="671" width="1" height="11" fill="#c0c0c0"/>
<rect x="930" y="667" width="1" height="15" fill="#c0c0c0"/>
<rect x="938" y="666" width="1" height="16" fill="#c0c0c0"/>
<rect x="946" y="664" width="1" height="18" fill="#c0c0c0"/>
<rect x="954" y="665" width="1" height="17" fill="#c0c0c0"/>
<rect x="962" y="665" width="1" height="17" fill="#c0c0c0"/>
<rect x="970" y="668" width="1" height="14" fill="#c0c0c0"/>
<rect x="978" y="672" width="1" height="10" fill="#c0c0c0"/>
<rect x="986" y="675" width="1" height="7" fill="#c0c0c0"/>
<rect x="994" y="679" width="1" height="3" fill="#c0c0c0"/>
<rect x="1002" y="681" width="1" height="2" fill="#c0c0c0"/>
<rect x="1010" y="675" width="1" height="7" fill="#c0c0c0"/>
<rect x="1018" y="677" width="1" height="5" fill="#c0c0c0"/>
<rect x="1026" y="670" width="1" height="12" fill="#c0c0c0"/>
<rect x="1034" y="663" width="1" height="19" fill="#c0c0c0"/>
<rect x="1042" y="657" width="1" height="25" fill="#c0c0c0"/>
<rect x="1050" y="654" width="1" height="28" fill="#c0c0c0"/>
<rect x="1058" y="647" width="1" height="35" fill="#c0c0c0"/>
<rect x="1066" y="643" width="1" height="39" fill="#c0c0c0"/>
<rect x="1074" y="646" width="1" height="36" fill="#c0c0c0"/>
<rect x="1082" y="646" width="1" height="36" fill="#c0c0c0"/>
<rect x="1090" y="644" width="1" height="38" fill="#c0c0c0"/>
<rect x="1098" y="643" width="1" height="39" fill="#c0c0c0"/>
<rect x="1106" y="641" width="1" height="41" fill="#c0c0c0"/>
<rect x="1114" y="640" width="1" height="42" fill="#c0c0c0"/>
<rect x="1122" y="640" width="1" height="42" fill="#c0c0c0"/>
<rect x="1130" y="639" width="1" height="43" fill="#c0c0c0"/>
<rect x="1138" y="637" width="1" height="45" fill="#c0c0c0"/>
<rect x="1146" y="635" width="1" height="47" fill="#c0c0c0"/>
<rect x="1154" y="633" width="1" height="49" fill="#c0c0c0"/>
<rect x="1162" y="630" width="1" height="52" fill="#c0c0c0"/>
<rect x="1170" y="630" width="1" height="52" fill="#c0c0c0"/>
<rect x="1178" y="633" width="1" height="49" fill="#c0c0c0"/>
<rect x="1186" y="635" width="1" height="47" fill="#c0c0c0"/>
<rect x="1194" y="636" width="1" height="46" fill="#c0c0c0"/>
<rect x="1202" y="634" width="1" height="48" fill="#c0c0c0"/>
<rect x="1210" y="635" width="1" height="47" fill="#c0c0c0"/>
<rect x="1218" y="632" width="1" height="50" fill="#c0c0c0"/>
<rect x="1226" y="631" width="1" height="51" fill="#c0c0c0"/>
<rect x="1234" y="633" width="1" height="49" fill="#c0c0c0"/>
<rect x="1242" y="637" width="1" height="45" fill="#c0c0c0"/>
<rect x="1250" y="640" width="1" height="42" fill="#c0c0c0"/>
<rect x="1258" y="644" width="1" height="38" fill="#c0c0c0"/>
<rect x="1266" y="650" width="1" height="32" fill="#c0c0c0"/>
<rect x="1274" y="658" width="1" height="24" fill="#c0c0c0"/>
<rect x="1282" y="661" width="1" height="21" fill="#c0c0c0"/>
<rect x="1290" y="663" width="1" height="19" fill="#c0c0c0"/>
<rect x="1298" y="659" width="1" height="23" fill="#c0c0c0"/>
<rect x="1306" y="653" width="1" height="29" fill="#c0c0c0"/>
<rect x="1314" y="646" width="1" height="36" fill="#c0c0c0"/>
<rect x="1322" y="643" width="1" height="39" fill="#c0c0c0"/>
<rect x="1330" y="647" width="1" height="35" fill="#c0c0c0"/>
<rect x="1338" y="648" width="1" height="34" fill="#c0c0c0"/>
<rect x="1346" y="651" width="1" height="31" fill="#c0c0c0"/>
<rect x="1354" y="650" width="1" height="32" fill="#c0c0c0"/>
<rect x="1362" y="646" width="1" height="36" fill="#c0c0c0"/>
<rect x="1370" y="643" width="1" height="39" fill="#c0c0c0"/>
<rect x="1378" y="647" width="1" height="35" fill="#c0c0c0"/>
<rect x="1386" y="647" width="1" height="35" fill="#c0c0c0"/>
<rect x="1394" y="642" width="1" height="40" fill="#c0c0c0"/>
<rect x="1402" y="637" width="1" height="45" fill="#c0c0c0"/>
<rect x="1410" y="632" width="1" height="50" fill="#c0c0c0"/>
<rect x="1418" y="635" width="1" height="47" fill="#c0c0c0"/>
<rect x="1426" y="634" width="1" height="48" fill="#c0c0c0"/>
<rect x="1434" y="635" width="1" height="47" fill="#c0c0c0"/>
<rect x="1442" y="638" width="1" height="44" fill="#c0c0c0"/>
<rect x="1450" y="642" width="1" height="40" fill="#c0c0c0"/>
<rect x="1458" y="647" width="1" height="35" fill="#c0c0c0"/>
<rect x="1466" y="652" width="1" height="30" fill="#c0c0c0"/>
<rect x="1474" y="649" width="1" height="33" fill="#c0c0c0"/>
<rect x="1482" y="647" width="1" height="35" fill="#c0c0c0"/>
<rect x="1490" y="645" width="1" height="37" fill="#c0c0c0"/>
<rect x="1498" y="649" width="1" height="33" fill="#c0c0c0"/>
<polyline fill="none" stroke="#ff0000" stroke-width="1" stroke-dasharray="3 3" points="0,649.6 2.0,648.1 10.0,638.9 18.0,631.9 26.0,629.3 34.0,627.5 42.0,625.3 50.0,625.2 58.0,627.2 66.0,630.8 74.0,635.4 82.0,642.8 90.0,649.2 98.0,653.2 106.0,658.5 114.0,663.6 122.0,669.2 130.0,674.7 138.0,680.2 146.0,683.3 154.0,686.3 162.0,689.1 170.0,689.2 178.0,690.3 186.0,691.0 194.0,690.0 202.0,687.5 210.0,684.4 218.0,680.7 226.0,676.1 234.0,672.2 242.0,668.2 250.0,665.1 258.0,663.2 266.0,662.0 274.0,660.4 282.0,659.7 290.0,658.6 298.0,657.0 306.0,655.6 314.0,653.5 322.0,651.9 330.0,646.8 338.0,642.2 346.0,637.6 354.0,631.8 362.0,625.0 370.0,618.4 378.0,612.2 386.0,606.5 394.0,602.5 402.0,598.0 410.0,594.1 418.0,592.6 426.0,591.5 434.0,592.2 442.0,593.3 450.0,597.2 458.0,599.8 466.0,603.7 474.0,607.1 482.0,610.7 490.0,611.8 498.0,614.1 506.0,615.7 514.0,618.7 522.0,621.1 530.0,623.4 538.0,625.0 546.0,626.1 554.0,628.0 562.0,628.5 570.0,628.0 578.0,626.9 586.0,625.7 594.0,624.5 602.0,622.7 610.0,622.7 618.0,622.7 626.0,625.0 634.0,630.3 642.0,638.3 650.0,647.7 658.0,656.8 666.0,669.7 674.0,681.1 682.0,691.0 690.0,698.5 698.0,706.5 706.0,712.7 714.0,716.3 722.0,719.7 730.0,722.5 738.0,724.6 746.0,726.2 754.0,728.5 762.0,729.2 770.0,730.4 778.0,731.1 786.0,729.6 794.0,728.1 802.0,723.9 810.0,720.4 818.0,715.4 826.0,710.5 834.0,706.6 842.0,701.4 850.0,696.2 858.0,691.1 866.0,687.4 874.0,684.6 882.0,682.3 890.0,679.5 898.0,678.4 906.0,676.6 914.0,676.5 922.0,675.4 930.0,674.7 938.0,673.5 946.0,672.4 954.0,671.2 962.0,670.1 970.0,668.5 978.0,667.7 986.0,667.7 994.0,668.4 1002.0,670.3 1010.0,671.4 1018.0,672.3 1026.0,672.4 1034.0,672.4 1042.0,671.4 1050.0,669.6 1058.0,665.8 1066.0,662.0 1074.0,658.1 1082.0,654.7 1090.0,651.1 1098.0,648.4 1106.0,646.5 1114.0,644.2 1122.0,642.6 1130.0,642.6 1138.0,641.4 1146.0,640.3 1154.0,638.9 1162.0,637.7 1170.0,635.7 1178.0,634.5 1186.0,634.5 1194.0,633.5 1202.0,633.3 1210.0,633.3 1218.0,632.6 1226.0,632.2 1234.0,632.6 1242.0,633.1 1250.0,634.2 1258.0,635.4 1266.0,636.6 1274.0,639.6 1282.0,642.5 1290.0,644.9 1298.0,648.1 1306.0,651.5 1314.0,652.3 1322.0,652.3 1330.0,652.3 1338.0,652.3 1346.0,651.1 1354.0,650.4 1362.0,648.1 1370.0,646.5 1378.0,646.5 1386.0,646.5 1394.0,645.8 1402.0,644.6 1410.0,643.5 1418.0,642.3 1426.0,639.6 1434.0,638.4 1442.0,637.5 1450.0,637.5 1458.0,637.5 1466.0,638.4 1474.0,639.1 1482.0,641.2 1490.0,642.5 1498.0,644.6"/>
</g>
<line x1="1" y1="785.5" x2="1684" y2="785.5" stroke="#c0c0c0" stroke-width="1" stroke-dasharray="3 3"/>
<line x1="1" y1="836.5" x2="1684" y2="836.5" stroke="#c0c0c0" stroke-width="1" stroke-dasharray="3 3"/>
<line x1="1" y1="897.5" x2="1684" y2="897.5" stroke="#c0c0c0" stroke-width="1" stroke-dasharray="3 3"/>
<polyline fill="none" stroke="#1e90ff" stroke-width="1" points="0,801.1 2,801.1 10,801.6 18,824.3 26,835.3 34,833.0 42,820.8 50,827.3 58,831.2 66,843.9 74,851.3 82,852.4 90,834.2 98,832.3 106,843.2 114,842.3 122,849.2 130,850.4 138,852.4 146,842.7 154,834.4 162,834.4 170,833.5 178,833.5 186,830.5 194,825.9 202,817.3 210,818.5 218,815.5 226,816.4 234,829.3 242,827.3 250,824.3 258,829.3 266,828.4 274,828.4 282,815.5 290,807.4 298,808.5 306,807.4 314,801.8 322,800.2 330,791.9 338,788.4 346,785.0 354,778.0 362,781.5 370,782.7 378,787.3 386,787.3 394,784.3 402,783.4 410,805.3 418,805.3 426,802.3 434,808.1 442,810.4 450,807.6 458,804.6 466,802.5 474,802.5 482,787.3 490,818.5 498,808.5 506,827.3 514,827.3 522,830.5 530,821.5 538,814.6 546,817.3 554,805.3 562,804.2 570,804.2 578,801.1 586,810.4 594,823.6 602,820.3 610,826.6 618,836.5 626,857.3 634,853.4 642,866.3 650,867.7 658,865.4 666,860.5 674,855.9 682,845.7 690,844.1 698,849.2 706,848.3 714,858.5 722,864.2 730,866.5 738,860.5 746,862.4 754,857.3 762,842.3 770,843.4 778,837.4 786,840.4 794,834.4 802,835.3 810,827.3 818,841.4 826,837.4 834,834.4 842,823.3 850,824.3 858,820.3 866,838.1 874,829.3 882,841.4 890,838.4 898,839.5 906,836.5 914,835.3 922,817.3 930,824.3 938,829.3 946,827.3 954,832.3 962,830.3 970,836.3 978,843.2 986,839.5 994,843.2 1002,844.4 1010,820.3 1018,838.4 1026,823.3 1034,821.3 1042,819.4 1050,821.5 1058,813.4 1066,818.0 1074,830.3 1082,825.4 1090,821.5 1098,821.5 1106,818.2 1114,819.4 1122,819.4 1130,816.4 1138,814.3 1146,811.3 1154,808.3 1162,806.2 1170,811.3 1178,821.3 1186,818.2 1194,817.3 1202,807.4 1210,818.2 1218,809.2 1226,810.4 1234,815.5 1242,826.6 1250,825.4 1258,825.4 1266,835.8 1274,847.4 1282,834.4 1290,832.3 1298,818.2 1306,812.2 1314,806.2 1322,816.4 1330,831.2 1338,826.6 1346,832.3 1354,821.5 1362,818.2 1370,816.4 1378,830.3 1386,826.1 1394,815.5 1402,812.2 1410,811.3 1418,825.4 1426,820.6 1434,821.5 1442,828.2 1450,829.3 1458,834.4 1466,834.4 1474,818.2 1482,821.5 1490,818.2 1498,831.2"/>
<text x="-1.5" y="589.8" font-size="9.8" fill="#000" stroke="#000" stroke-width="0.1" textLength="147.8" lengthAdjust="spacingAndGlyphs" >MACD(12,26,9) 0.005328 0.005956</text>
<text x="-0.5" y="761.8" font-size="9.8" fill="#000" stroke="#000" stroke-width="0.1" textLength="66.3" lengthAdjust="spacingAndGlyphs" >RSI(14) 52.8433</text>
<rect x="0" y="22" width="1685" height="1" fill="#000"/>
<rect x="1684" y="22" width="1" height="902" fill="#000"/>
<rect x="0" y="575" width="1685" height="1" fill="#000"/>
<rect x="0" y="577" width="1685" height="1" fill="#000"/>
<rect x="0" y="747" width="1685" height="1" fill="#000"/>
<rect x="0" y="749" width="1685" height="1" fill="#000"/>
<rect x="0" y="923" width="1685" height="1" fill="#000"/>
<rect x="1684" y="576" width="1" height="1" fill="#fff"/>
<rect x="1684" y="748" width="1" height="1" fill="#fff"/>
<rect x="1730" y="19" width="1" height="919" fill="#e3e3e3"/>
<rect x="1685" y="44" width="2" height="1" fill="#000"/>
<text x="1690.0" y="47.9" font-size="9.8" fill="#000" stroke="#000" stroke-width="0.1" textLength="33.4" lengthAdjust="spacingAndGlyphs" >1.37240</text>
<rect x="1685" y="77" width="2" height="1" fill="#000"/>
<text x="1690.0" y="80.9" font-size="9.8" fill="#000" stroke="#000" stroke-width="0.1" textLength="33.4" lengthAdjust="spacingAndGlyphs" >1.36290</text>
<rect x="1685" y="110" width="2" height="1" fill="#000"/>
<text x="1690.0" y="113.9" font-size="9.8" fill="#000" stroke="#000" stroke-width="0.1" textLength="33.4" lengthAdjust="spacingAndGlyphs" >1.35365</text>
<rect x="1685" y="143" width="2" height="1" fill="#000"/>
<text x="1690.0" y="146.9" font-size="9.8" fill="#000" stroke="#000" stroke-width="0.1" textLength="33.4" lengthAdjust="spacingAndGlyphs" >1.34415</text>
<rect x="1685" y="176" width="2" height="1" fill="#000"/>
<text x="1690.0" y="179.9" font-size="9.8" fill="#000" stroke="#000" stroke-width="0.1" textLength="33.4" lengthAdjust="spacingAndGlyphs" >1.33490</text>
<rect x="1685" y="209" width="2" height="1" fill="#000"/>
<text x="1690.0" y="212.9" font-size="9.8" fill="#000" stroke="#000" stroke-width="0.1" textLength="33.4" lengthAdjust="spacingAndGlyphs" >1.32540</text>
<rect x="1685" y="242" width="2" height="1" fill="#000"/>
<text x="1690.0" y="245.9" font-size="9.8" fill="#000" stroke="#000" stroke-width="0.1" textLength="33.4" lengthAdjust="spacingAndGlyphs" >1.31590</text>
<rect x="1685" y="275" width="2" height="1" fill="#000"/>
<text x="1690.0" y="278.9" font-size="9.8" fill="#000" stroke="#000" stroke-width="0.1" textLength="33.4" lengthAdjust="spacingAndGlyphs" >1.30665</text>
<rect x="1685" y="308" width="2" height="1" fill="#000"/>
<text x="1690.0" y="311.9" font-size="9.8" fill="#000" stroke="#000" stroke-width="0.1" textLength="33.4" lengthAdjust="spacingAndGlyphs" >1.29715</text>
<rect x="1685" y="341" width="2" height="1" fill="#000"/>
<text x="1690.0" y="344.9" font-size="9.8" fill="#000" stroke="#000" stroke-width="0.1" textLength="33.4" lengthAdjust="spacingAndGlyphs" >1.28790</text>
<rect x="1685" y="374" width="2" height="1" fill="#000"/>
<text x="1690.0" y="377.9" font-size="9.8" fill="#000" stroke="#000" stroke-width="0.1" textLength="33.4" lengthAdjust="spacingAndGlyphs" >1.27840</text>
<rect x="1685" y="407" width="2" height="1" fill="#000"/>
<text x="1690.0" y="410.9" font-size="9.8" fill="#000" stroke="#000" stroke-width="0.1" textLength="33.4" lengthAdjust="spacingAndGlyphs" >1.26915</text>
<rect x="1685" y="440" width="2" height="1" fill="#000"/>
<text x="1690.0" y="443.9" font-size="9.8" fill="#000" stroke="#000" stroke-width="0.1" textLength="33.4" lengthAdjust="spacingAndGlyphs" >1.25965</text>
<rect x="1685" y="474" width="2" height="1" fill="#000"/>
<text x="1690.0" y="477.9" font-size="9.8" fill="#000" stroke="#000" stroke-width="0.1" textLength="33.4" lengthAdjust="spacingAndGlyphs" >1.25015</text>
<rect x="1685" y="506" width="2" height="1" fill="#000"/>
<text x="1690.0" y="509.9" font-size="9.8" fill="#000" stroke="#000" stroke-width="0.1" textLength="33.4" lengthAdjust="spacingAndGlyphs" >1.24090</text>
<rect x="1685" y="539" width="2" height="1" fill="#000"/>
<text x="1690.0" y="542.9" font-size="9.8" fill="#000" stroke="#000" stroke-width="0.1" textLength="33.4" lengthAdjust="spacingAndGlyphs" >1.23140</text>
<rect x="1685" y="572" width="2" height="1" fill="#000"/>
<text x="1690.0" y="575.9" font-size="9.8" fill="#000" stroke="#000" stroke-width="0.1" textLength="33.4" lengthAdjust="spacingAndGlyphs" >1.22215</text>
<rect x="1686" y="42" width="41" height="11" fill="#ff0000"/>
<text x="1690.0" y="50.9" font-size="9.8" fill="#fff" stroke="#fff" stroke-width="0.1" textLength="33.4" lengthAdjust="spacingAndGlyphs" >1.37110</text>
<rect x="1686" y="64" width="41" height="11" fill="#ff4500"/>
<text x="1690.0" y="72.9" font-size="9.8" fill="#fff" stroke="#fff" stroke-width="0.1" textLength="33.4" lengthAdjust="spacingAndGlyphs" >1.36485</text>
<rect x="1679.5" y="68.5" width="4" height="4" fill="#fff" stroke="#ff4500"/>
<rect x="1686" y="78" width="41" height="11" fill="#32cd32"/>
<text x="1690.0" y="86.9" font-size="9.8" fill="#fff" stroke="#fff" stroke-width="0.1" textLength="33.4" lengthAdjust="spacingAndGlyphs" >1.36087</text>
<rect x="1679.5" y="82.5" width="4" height="4" fill="#fff" stroke="#32cd32"/>
<rect x="1686" y="90" width="41" height="11" fill="#000000"/>
<text x="1690.0" y="98.9" font-size="9.8" fill="#fff" stroke="#fff" stroke-width="0.1" textLength="33.4" lengthAdjust="spacingAndGlyphs" >1.35784</text>
<rect x="1686" y="105" width="41" height="11" fill="#0000ff"/>
<text x="1690.0" y="113.9" font-size="9.8" fill="#fff" stroke="#fff" stroke-width="0.1" textLength="33.4" lengthAdjust="spacingAndGlyphs" >1.35320</text>
<rect x="1679.5" y="109.5" width="4" height="4" fill="#fff" stroke="#0000ff"/>
<rect x="1686" y="122" width="41" height="11" fill="#0000ff"/>
<text x="1690.0" y="130.9" font-size="9.8" fill="#fff" stroke="#fff" stroke-width="0.1" textLength="33.4" lengthAdjust="spacingAndGlyphs" >1.34837</text>
<rect x="1679.5" y="126.5" width="4" height="4" fill="#fff" stroke="#0000ff"/>
<rect x="1685" y="579" width="1" height="1" fill="#000"/>
<text x="1688.4" y="587.9" font-size="9.8" fill="#000" stroke="#000" stroke-width="0.1" textLength="27.3" lengthAdjust="spacingAndGlyphs" >0.0165</text>
<rect x="1685" y="681" width="1" height="1" fill="#000"/>
<text x="1688.4" y="684.7" font-size="9.8" fill="#000" stroke="#000" stroke-width="0.1" textLength="16.9" lengthAdjust="spacingAndGlyphs" >0.00</text>
<rect x="1685" y="746" width="1" height="1" fill="#000"/>
<text x="1688.4" y="744.1" font-size="9.8" fill="#000" stroke="#000" stroke-width="0.1" textLength="40.0" lengthAdjust="spacingAndGlyphs" >-0.010571</text>
<rect x="1685" y="751" width="1" height="1" fill="#000"/>
<text x="1688.4" y="759.9" font-size="9.8" fill="#000" stroke="#000" stroke-width="0.1" textLength="14.0" lengthAdjust="spacingAndGlyphs" >100</text>
<text x="1688.2" y="788.5" font-size="9.8" fill="#000" stroke="#000" stroke-width="0.1" textLength="9.6" lengthAdjust="spacingAndGlyphs" >80</text>
<text x="1688.2" y="839.5" font-size="9.8" fill="#000" stroke="#000" stroke-width="0.1" textLength="9.6" lengthAdjust="spacingAndGlyphs" >50</text>
<text x="1688.2" y="900.5" font-size="9.8" fill="#000" stroke="#000" stroke-width="0.1" textLength="9.6" lengthAdjust="spacingAndGlyphs" >15</text>
<text x="1688.3" y="919.9" font-size="9.8" fill="#000" stroke="#000" stroke-width="0.1" >0</text>
<rect x="1685" y="922" width="1" height="1" fill="#000"/>
<rect x="-6" y="923" width="1" height="4" fill="#000"/>
<text x="-6.5" y="935.9" font-size="9.8" fill="#000" stroke="#000" stroke-width="0.1" textLength="44.4" lengthAdjust="spacingAndGlyphs" >8 Jun 2020</text>
<rect x="58" y="923" width="1" height="4" fill="#000"/>
<text x="57.5" y="935.9" font-size="9.8" fill="#000" stroke="#000" stroke-width="0.1" textLength="49.5" lengthAdjust="spacingAndGlyphs" >17 Jun 2020</text>
<rect x="122" y="923" width="1" height="4" fill="#000"/>
<text x="121.5" y="935.9" font-size="9.8" fill="#000" stroke="#000" stroke-width="0.1" textLength="49.5" lengthAdjust="spacingAndGlyphs" >26 Jun 2020</text>
<rect x="186" y="923" width="1" height="4" fill="#000"/>
<text x="185.5" y="935.9" font-size="9.8" fill="#000" stroke="#000" stroke-width="0.1" textLength="41.4" lengthAdjust="spacingAndGlyphs" >6 Jul 2020</text>
<rect x="250" y="923" width="1" height="4" fill="#000"/>
<text x="249.5" y="935.9" font-size="9.8" fill="#000" stroke="#000" stroke-width="0.1" textLength="46.5" lengthAdjust="spacingAndGlyphs" >15 Jul 2020</text>
<rect x="314" y="923" width="1" height="4" fill="#000"/>
<text x="313.5" y="935.9" font-size="9.8" fill="#000" stroke="#000" stroke-width="0.1" textLength="46.5" lengthAdjust="spacingAndGlyphs" >24 Jul 2020</text>
<rect x="378" y="923" width="1" height="4" fill="#000"/>
<text x="377.5" y="935.9" font-size="9.8" fill="#000" stroke="#000" stroke-width="0.1" textLength="47.1" lengthAdjust="spacingAndGlyphs" >3 Aug 2020</text>
<rect x="442" y="923" width="1" height="4" fill="#000"/>
<text x="441.5" y="935.9" font-size="9.8" fill="#000" stroke="#000" stroke-width="0.1" textLength="52.2" lengthAdjust="spacingAndGlyphs" >12 Aug 2020</text>
<rect x="506" y="923" width="1" height="4" fill="#000"/>
<text x="505.5" y="935.9" font-size="9.8" fill="#000" stroke="#000" stroke-width="0.1" textLength="52.2" lengthAdjust="spacingAndGlyphs" >21 Aug 2020</text>
<rect x="570" y="923" width="1" height="4" fill="#000"/>
<text x="569.5" y="935.9" font-size="9.8" fill="#000" stroke="#000" stroke-width="0.1" textLength="52.2" lengthAdjust="spacingAndGlyphs" >31 Aug 2020</text>
<rect x="634" y="923" width="1" height="4" fill="#000"/>
<text x="633.5" y="935.9" font-size="9.8" fill="#000" stroke="#000" stroke-width="0.1" textLength="46.4" lengthAdjust="spacingAndGlyphs" >9 Sep 2020</text>
<rect x="698" y="923" width="1" height="4" fill="#000"/>
<text x="697.5" y="935.9" font-size="9.8" fill="#000" stroke="#000" stroke-width="0.1" textLength="51.5" lengthAdjust="spacingAndGlyphs" >18 Sep 2020</text>
<rect x="762" y="923" width="1" height="4" fill="#000"/>
<text x="761.5" y="935.9" font-size="9.8" fill="#000" stroke="#000" stroke-width="0.1" textLength="51.5" lengthAdjust="spacingAndGlyphs" >28 Sep 2020</text>
<rect x="826" y="923" width="1" height="4" fill="#000"/>
<text x="825.5" y="935.9" font-size="9.8" fill="#000" stroke="#000" stroke-width="0.1" textLength="45.2" lengthAdjust="spacingAndGlyphs" >7 Oct 2020</text>
<rect x="890" y="923" width="1" height="4" fill="#000"/>
<text x="889.5" y="935.9" font-size="9.8" fill="#000" stroke="#000" stroke-width="0.1" textLength="50.3" lengthAdjust="spacingAndGlyphs" >16 Oct 2020</text>
<rect x="954" y="923" width="1" height="4" fill="#000"/>
<text x="953.5" y="935.9" font-size="9.8" fill="#000" stroke="#000" stroke-width="0.1" textLength="50.3" lengthAdjust="spacingAndGlyphs" >26 Oct 2020</text>
<rect x="1018" y="923" width="1" height="4" fill="#000"/>
<text x="1017.5" y="935.9" font-size="9.8" fill="#000" stroke="#000" stroke-width="0.1" textLength="47.1" lengthAdjust="spacingAndGlyphs" >4 Nov 2020</text>
<rect x="1082" y="923" width="1" height="4" fill="#000"/>
<text x="1081.5" y="935.9" font-size="9.8" fill="#000" stroke="#000" stroke-width="0.1" textLength="52.2" lengthAdjust="spacingAndGlyphs" >13 Nov 2020</text>
<rect x="1146" y="923" width="1" height="4" fill="#000"/>
<text x="1145.5" y="935.9" font-size="9.8" fill="#000" stroke="#000" stroke-width="0.1" textLength="52.2" lengthAdjust="spacingAndGlyphs" >23 Nov 2020</text>
<rect x="1210" y="923" width="1" height="4" fill="#000"/>
<text x="1209.5" y="935.9" font-size="9.8" fill="#000" stroke="#000" stroke-width="0.1" textLength="46.7" lengthAdjust="spacingAndGlyphs" >2 Dec 2020</text>
<rect x="1274" y="923" width="1" height="4" fill="#000"/>
<text x="1273.5" y="935.9" font-size="9.8" fill="#000" stroke="#000" stroke-width="0.1" textLength="51.8" lengthAdjust="spacingAndGlyphs" >11 Dec 2020</text>
<rect x="1338" y="923" width="1" height="4" fill="#000"/>
<text x="1337.5" y="935.9" font-size="9.8" fill="#000" stroke="#000" stroke-width="0.1" textLength="51.8" lengthAdjust="spacingAndGlyphs" >21 Dec 2020</text>
<rect x="1402" y="923" width="1" height="4" fill="#000"/>
<text x="1401.5" y="935.9" font-size="9.8" fill="#000" stroke="#000" stroke-width="0.1" textLength="51.8" lengthAdjust="spacingAndGlyphs" >31 Dec 2020</text>
<rect x="1466" y="923" width="1" height="4" fill="#000"/>
<text x="1465.5" y="935.9" font-size="9.8" fill="#000" stroke="#000" stroke-width="0.1" textLength="50.2" lengthAdjust="spacingAndGlyphs" >11 Jan 2021</text>
<polygon points="-1,28.5 4.5,33 -1,33" fill="#000" shape-rendering="geometricPrecision"/>
<text x="9.0" y="33.8" font-size="9.8" fill="#000" stroke="#000" stroke-width="0.1" textLength="66.9" lengthAdjust="spacingAndGlyphs" >GBPUSD-,Daily</text>
<text x="81.6" y="33.8" font-size="9.8" fill="#000" stroke="#000" stroke-width="0.1" textLength="141.0" lengthAdjust="spacingAndGlyphs" >1.36811 1.36968 1.35710 1.35784</text>
<rect x="0" y="41" width="218" height="67" fill="#fff"/>
<rect x="0" y="42" width="48.7" height="25" fill="url(#gTab)"/>
<rect x="48" y="42" width="1" height="25" fill="#c41e1e"/>
<rect x="0" y="42" width="49" height="1" fill="#d63a3a"/>
<rect x="0" y="66.4" width="106" height="39.6" fill="url(#gBig)"/>
<rect x="105" y="66.4" width="1" height="39.6" fill="#a80000"/>
<rect x="49" y="66" width="57" height="1" fill="#c01010"/>
<rect x="0" y="105" width="106" height="1" fill="#a00000"/>
<rect x="1" y="65" width="44" height="1" fill="#8e0000"/>
<rect x="1" y="66" width="44" height="1" fill="#f06a6a"/>
<rect x="164.3" y="42" width="51.7" height="25" fill="url(#gTab)"/>
<rect x="164" y="42" width="1" height="25" fill="#c41e1e"/>
<rect x="215" y="42" width="1" height="25" fill="#c41e1e"/>
<rect x="164" y="42" width="52" height="1" fill="#d63a3a"/>
<rect x="108" y="66.4" width="108" height="39.6" fill="url(#gBig)"/>
<rect x="108" y="66.4" width="1" height="39.6" fill="#a80000"/>
<rect x="215" y="66.4" width="1" height="39.6" fill="#a80000"/>
<rect x="108" y="66" width="57" height="1" fill="#c01010"/>
<rect x="108" y="105" width="108" height="1" fill="#a00000"/>
<rect x="168" y="65" width="44" height="1" fill="#8e0000"/>
<rect x="168" y="66" width="44" height="1" fill="#f06a6a"/>
<rect x="51.5" y="42.5" width="110" height="21" fill="#fff" stroke="#a9aebb"/>
<rect x="53" y="44" width="19" height="18" fill="url(#gBtn)"/>
<rect x="72" y="43" width="1" height="20" fill="#a9aebb"/>
<rect x="142" y="44" width="19" height="18" fill="url(#gBtn)"/>
<rect x="140" y="43" width="1" height="20" fill="#a9aebb"/>
<polygon points="58.8,51 64.2,51 61.5,54" fill="#4a63c4" shape-rendering="geometricPrecision"/>
<polygon points="147.7,54 153.1,54 150.4,51" fill="#4a63c4" shape-rendering="geometricPrecision"/>
<text x="113.3" y="56.8" font-size="12.2" fill="#111" textLength="24.4" lengthAdjust="spacingAndGlyphs" >1.00</text>
<text x="8.0" y="57.8" font-size="12.2" fill="#fff" textLength="27.6" lengthAdjust="spacingAndGlyphs" >SELL</text>
<text x="176.5" y="57.8" font-size="12.2" fill="#fff" textLength="24.7" lengthAdjust="spacingAndGlyphs" >BUY</text>
<text x="16.7" y="97.1" font-size="12.2" fill="#fff" textLength="24.0" lengthAdjust="spacingAndGlyphs" font-weight="bold" >1.35</text>
<text x="126.8" y="97.1" font-size="12.2" fill="#fff" textLength="24.0" lengthAdjust="spacingAndGlyphs" font-weight="bold" >1.35</text>
<text x="42.9" y="97.8" font-size="36.2" fill="#fff" textLength="38.4" lengthAdjust="spacingAndGlyphs" stroke="url(#gBigU)" stroke-width="1.0">78</text>
<text x="153.6" y="97.8" font-size="36.2" fill="#fff" textLength="38.1" lengthAdjust="spacingAndGlyphs" stroke="url(#gBigU)" stroke-width="1.0">80</text>
<text x="83.6" y="81.0" font-size="12.2" fill="#fff" textLength="7.6" lengthAdjust="spacingAndGlyphs" font-weight="bold" >4</text>
<text x="194.6" y="81.0" font-size="12.2" fill="#fff" textLength="7.6" lengthAdjust="spacingAndGlyphs" font-weight="bold" >9</text>
<rect x="0" y="0" width="1731" height="18" fill="#f0f0f0"/>
<rect x="0" y="17" width="1731" height="1" fill="#dcdcdc"/>
<rect x="0" y="18" width="1731" height="1" fill="#a8a8a8"/>
<rect x="0" y="19" width="1731" height="1" fill="#9c9c9c"/>
<rect x="0" y="20" width="1731" height="2" fill="#fff"/>
<rect x="1730" y="20" width="1" height="3" fill="#e3e3e3"/>
<g shape-rendering="geometricPrecision">
<rect x="-3" y="-3" width="10.5" height="15.5" fill="#fff" stroke="#4a7fd6" stroke-width="1.2"/>
<rect x="-2" y="1" width="8" height="1" fill="#9dbcf0"/>
<rect x="-2" y="3" width="8" height="1" fill="#9dbcf0"/>
<rect x="-2" y="5" width="8" height="1" fill="#9dbcf0"/>
<rect x="-2" y="7" width="8" height="1" fill="#9dbcf0"/>
<rect x="-2" y="9" width="8" height="1" fill="#9dbcf0"/>
<rect x="20.5" y="-3" width="12" height="14" fill="#fbfbf6" stroke="#b8a888" stroke-width="1"/>
<line x1="31.5" y1="10.5" x2="36.5" y2="15" stroke="#c9a227" stroke-width="2.6" stroke-linecap="round"/>
<circle cx="28" cy="6.3" r="4.8" fill="#c6dbf3" fill-opacity="0.9" stroke="#7aa3e6" stroke-width="1.3"/>
<rect x="26.5" y="3.5" width="2.2" height="4.5" fill="#93aac9"/>
</g>
<rect x="45" y="0" width="1" height="16" fill="#a0a0a0"/>
<rect x="46" y="0" width="1" height="16" fill="#fff"/>
<g shape-rendering="geometricPrecision">
<path d="M55.5,-3 h8 l3.5,3.5 v11 h-11.5z" fill="#fff" stroke="#8a8a8a" stroke-width="1"/>
<rect x="57.5" y="2" width="6" height="1" fill="#9a9a9a"/>
<rect x="57.5" y="5" width="6" height="1" fill="#9a9a9a"/>
<rect x="57.5" y="8" width="6" height="1" fill="#9a9a9a"/>
<path d="M63.2,5.2 h3.6 v3.8 h3.8 v3.6 h-3.8 v3.8 h-3.6 v-3.8 h-3.8 v-3.6 h3.8z" fill="#35d135" stroke="#12a012" stroke-width="0.8"/>
</g>
<text x="73.8" y="8.9" font-size="12.6" fill="#000" textLength="36.6" lengthAdjust="spacingAndGlyphs" font-weight="500" font-family="'Liberation Sans','Noto Sans CJK SC',sans-serif" shape-rendering="geometricPrecision">新订单</text>
<g shape-rendering="geometricPrecision">
<path d="M129,-4 L138,5.5 L129,13.5 L121.8,7 Z" fill="#e8b63a" stroke="#b07f14" stroke-width="1"/>
<path d="M121.8,7 L129,13.5 L138,5.5 L138,7.5 L129,15 L121.8,8.8Z" fill="#c8942a"/>
<path d="M126,-1 L134,6.5" stroke="#f6d77a" stroke-width="1.5"/>
<rect x="153" y="-3" width="10.5" height="11" fill="#3a8fe8" stroke="#1f6fd0" stroke-width="0.8"/>
<rect x="155" y="1" width="6.5" height="1.3" fill="#d8ecff"/><rect x="155" y="3.6" width="6.5" height="1.3" fill="#d8ecff"/>
<path d="M152.5,13.5 a3,3 0 0 1 0,-6 a4,4 0 0 1 7.5,-1 a3.6,3.6 0 0 1 6,3.2 a2.3,2.3 0 0 1 -0.5,3.8z" fill="#e6edf7" stroke="#8fa9cf" stroke-width="0.9"/>
<circle cx="186.2" cy="5.5" r="7.3" fill="none" stroke="#7fa6dd" stroke-width="1.2"/>
<path d="M186.2,-1.8 a7.3,7.3 0 0 1 0,14.6" fill="none" stroke="#58b058" stroke-width="1.4"/>
<circle cx="186.2" cy="5.5" r="4.3" fill="none" stroke="#5c8fd8" stroke-width="1.2"/>
<path d="M186.2,1.2 a4.3,4.3 0 0 1 0,8.6" fill="none" stroke="#49a749" stroke-width="1.3"/>
<circle cx="186.2" cy="5.3" r="1.6" fill="#2f6fd3"/>
<rect x="185.6" y="5.5" width="1.5" height="8" fill="#3aa03a"/>
<ellipse cx="213" cy="1.2" rx="7.5" ry="3.2" fill="#4d9be6" stroke="#2f78c8" stroke-width="0.8"/>
<path d="M206,3.5 L221,3.5 L216,12.5 L211,12.5Z" fill="#f3c73a" stroke="#c99a18" stroke-width="0.8"/>
<circle cx="217.4" cy="9.6" r="3.8" fill="#e02a1a" stroke="#b41608" stroke-width="0.6"/>
<rect x="215.9" y="8.1" width="3" height="3" fill="#fff"/>
</g>
<text x="226.6" y="9.4" font-size="12.4" fill="#000" textLength="46.8" lengthAdjust="spacingAndGlyphs" font-weight="500" font-family="'Liberation Sans','Noto Sans CJK SC',sans-serif" shape-rendering="geometricPrecision">自动交易</text>
<rect x="281" y="0" width="1" height="16" fill="#a0a0a0"/>
<rect x="282" y="0" width="1" height="16" fill="#fff"/>
<rect x="284" y="0" width="4" height="1" fill="#b8b8b8"/>
<rect x="284" y="2" width="4" height="1" fill="#b8b8b8"/>
<rect x="284" y="4" width="4" height="1" fill="#b8b8b8"/>
<rect x="284" y="6" width="4" height="1" fill="#b8b8b8"/>
<rect x="284" y="8" width="4" height="1" fill="#b8b8b8"/>
<rect x="284" y="10" width="4" height="1" fill="#b8b8b8"/>
<rect x="284" y="12" width="4" height="1" fill="#b8b8b8"/>
<rect x="284" y="14" width="4" height="1" fill="#b8b8b8"/>
<rect x="299" y="0" width="1" height="14" fill="#444"/>
<rect x="297" y="11" width="14" height="1" fill="#444"/>
<polygon points="311,9.5 313,11.5 311,13.5" fill="#444" shape-rendering="geometricPrecision"/>
<rect x="306" y="2" width="1" height="8" fill="#2a9a2a"/>
<rect x="303" y="8" width="3" height="1" fill="#2a9a2a"/>
<rect x="307" y="2" width="2" height="1" fill="#2a9a2a"/>
<rect x="319" y="0" width="1" height="16" fill="#a0a0a0"/>
<rect x="320" y="0" width="1" height="16" fill="#fff"/>
<rect x="321" y="0" width="24" height="17" fill="#f8f8f8"/>
<rect x="327" y="0" width="1" height="14" fill="#444"/>
<rect x="325" y="11" width="14" height="1" fill="#444"/>
<polygon points="339,9.5 341,11.5 339,13.5" fill="#444" shape-rendering="geometricPrecision"/>
<rect x="331" y="0" width="5" height="8" fill="#1fae1f"/>
<rect x="332" y="1" width="3" height="6" fill="#3fd63f"/>
<rect x="333" y="8" width="1" height="3" fill="#1a8a1a"/>
<rect x="355" y="0" width="1" height="14" fill="#444"/>
<rect x="353" y="11" width="14" height="1" fill="#444"/>
<polygon points="367,9.5 369,11.5 367,13.5" fill="#444" shape-rendering="geometricPrecision"/>
<path d="M354,9 C358,2 361,1 363,3.5 S366,7.5 367.5,8" fill="none" stroke="#2a9a2a" stroke-width="1.2" shape-rendering="geometricPrecision"/>
<rect x="376" y="0" width="1" height="16" fill="#a0a0a0"/>
<rect x="377" y="0" width="1" height="16" fill="#fff"/>
<g shape-rendering="geometricPrecision">
<line x1="394.9" y1="8.5" x2="399.9" y2="13.2" stroke="#d1ae2c" stroke-width="2.8" stroke-linecap="round"/>
<circle cx="390.9" cy="4" r="5.4" fill="#d4e7fb" stroke="#5b8fdc" stroke-width="1.3"/>
<rect x="387.9" y="3.3" width="6" height="1.5" fill="#3d78cf"/>
<rect x="390.15" y="1" width="1.5" height="6" fill="#3d78cf"/>
<line x1="423.4" y1="8.5" x2="428.4" y2="13.2" stroke="#d1ae2c" stroke-width="2.8" stroke-linecap="round"/>
<circle cx="419.4" cy="4" r="5.4" fill="#d4e7fb" stroke="#5b8fdc" stroke-width="1.3"/>
<rect x="416.4" y="3.3" width="6" height="1.5" fill="#3d78cf"/>
<rect x="441" y="-2" width="7.6" height="7.5" fill="#5db33a"/><rect x="449.4" y="-2" width="7.6" height="7.5" fill="#3c6fe0"/>
<rect x="441" y="6.3" width="7.6" height="7.2" fill="#3c6fe0"/><rect x="449.4" y="6.3" width="7.6" height="7.2" fill="#5db33a"/>
<rect x="442.3" y="1.5" width="5" height="2.8" fill="#fff"/>
<rect x="442.3" y="9.5" width="5" height="2.8" fill="#fff"/>
<rect x="450.7" y="1.5" width="5" height="2.8" fill="#fff"/>
<rect x="450.7" y="9.5" width="5" height="2.8" fill="#fff"/>
</g>
<rect x="466" y="0" width="1" height="16" fill="#a0a0a0"/>
<rect x="467" y="0" width="1" height="16" fill="#fff"/>
<rect x="472" y="0" width="25" height="17" fill="#f8f8f8"/>
<rect x="471" y="0" width="1" height="16" fill="#a0a0a0"/>
<rect x="479" y="0" width="1" height="14" fill="#444"/>
<rect x="477" y="11" width="14" height="1" fill="#444"/>
<polygon points="491,9.5 493,11.5 491,13.5" fill="#444" shape-rendering="geometricPrecision"/>
<polygon points="484,2.5 488,5.5 484,8.5" fill="#3ccc3c" stroke="#1a8a1a" stroke-width="0.8" shape-rendering="geometricPrecision"/>
<rect x="499" y="0" width="1" height="16" fill="#a0a0a0"/>
<rect x="500" y="0" width="25" height="17" fill="#f8f8f8"/>
<rect x="507" y="0" width="1" height="14" fill="#444"/>
<rect x="505" y="11" width="14" height="1" fill="#444"/>
<polygon points="519,9.5 521,11.5 519,13.5" fill="#444" shape-rendering="geometricPrecision"/>
<rect x="513" y="0" width="1" height="10" fill="#2f5fcf"/>
<path d="M519,5.5 h-4 M516.8,3.5 l-2.3,2 l2.3,2" fill="none" stroke="#e0481a" stroke-width="1.2" shape-rendering="geometricPrecision"/>
<rect x="528" y="0" width="1" height="16" fill="#a0a0a0"/>
<rect x="529" y="0" width="1" height="16" fill="#fff"/>
<g shape-rendering="geometricPrecision">
<path d="M538.5,-2 h4 v-2 h4 v2 h3 v12.5 h-11z" fill="#fff" stroke="#8a8a8a" stroke-width="1"/>
<path d="M546.2,3.2 h3.6 v4 h4 v3.6 h-4 v4 h-3.6 v-4 h-4 v-3.6 h4z" fill="#35d135" stroke="#12a012" stroke-width="0.8"/>
<circle cx="583.9" cy="5.6" r="6.8" fill="#fff" stroke="#2a6fd6" stroke-width="2.2"/>
<path d="M583.9,1.6 v4.5 h3" fill="none" stroke="#555" stroke-width="1.1"/>
<rect x="615.5" y="-2" width="14.5" height="14" fill="#fff" stroke="#3c7be0" stroke-width="1.3"/>
<rect x="615" y="-2" width="15.5" height="2.5" fill="#3c7be0"/>
<path d="M617.5,5 l3,-1 l3,0.5 l4,-1.5" fill="none" stroke="#c0301a" stroke-width="1.1"/>
<path d="M617.5,10 l3,-1.5 l2,1 l2.5,-2 l2.5,1.5" fill="none" stroke="#2a9a2a" stroke-width="1.1"/>
</g>
<polygon points="559.3,4.7 565.3,4.7 562.3,8.2" fill="#000" shape-rendering="geometricPrecision"/>
<polygon points="598.3,4.7 604.3,4.7 601.3,8.2" fill="#000" shape-rendering="geometricPrecision"/>
<polygon points="637.5,4.7 643.5,4.7 640.5,8.2" fill="#000" shape-rendering="geometricPrecision"/>
<rect x="649" y="0" width="1" height="16" fill="#a0a0a0"/>
<rect x="650" y="0" width="1" height="16" fill="#fff"/>
<rect x="652" y="0" width="4" height="1" fill="#b8b8b8"/>
<rect x="652" y="2" width="4" height="1" fill="#b8b8b8"/>
<rect x="652" y="4" width="4" height="1" fill="#b8b8b8"/>
<rect x="652" y="6" width="4" height="1" fill="#b8b8b8"/>
<rect x="652" y="8" width="4" height="1" fill="#b8b8b8"/>
<rect x="652" y="10" width="4" height="1" fill="#b8b8b8"/>
<rect x="652" y="12" width="4" height="1" fill="#b8b8b8"/>
<rect x="652" y="14" width="4" height="1" fill="#b8b8b8"/>
<rect x="660" y="0" width="25" height="17" fill="#f8f8f8"/>
<path d="M667.5,-2 L667.5,10.5 L670.3,8 L672.5,13 L674.3,12.2 L672.2,7.3 L676,7.2Z" fill="#4a4a4a" shape-rendering="geometricPrecision"/>
<rect x="699" y="0" width="1" height="14" fill="#555"/>
<rect x="692" y="6" width="15" height="1" fill="#555"/>
<rect x="699" y="6" width="1" height="1" fill="#f0f0f0"/>
<rect x="716" y="0" width="1" height="16" fill="#a0a0a0"/>
<rect x="717" y="0" width="1" height="16" fill="#fff"/>
<rect x="733" y="0" width="1" height="13" fill="#555"/>
<rect x="756" y="6" width="13" height="1" fill="#555"/>
<g shape-rendering="geometricPrecision">
<line x1="784" y1="12.8" x2="796.3" y2="0.8" stroke="#555" stroke-width="1.1"/>
<path d="M810,11 l13,-9 M811,7 l11,-7.5 M813,12.5 l3,-12 M817,10 l3,-11" fill="none" stroke="#666" stroke-width="1"/>
</g>
<text x="820.0" y="15.0" font-size="6.5" fill="#333" stroke="#333" stroke-width="0.1" font-weight="bold" shape-rendering="geometricPrecision">E</text>
<line x1="838" y1="2.5" x2="852" y2="2.5" stroke="#666" stroke-width="1" stroke-dasharray="1 1"/>
<line x1="838" y1="5.5" x2="852" y2="5.5" stroke="#666" stroke-width="1" stroke-dasharray="1 1"/>
<line x1="838" y1="8.5" x2="852" y2="8.5" stroke="#666" stroke-width="1" stroke-dasharray="1 1"/>
<line x1="838" y1="11.5" x2="848" y2="11.5" stroke="#666" stroke-width="1" stroke-dasharray="1 1"/>
<text x="849.0" y="15.0" font-size="6.5" fill="#333" stroke="#333" stroke-width="0.1" font-weight="bold" shape-rendering="geometricPrecision">F</text>
<text x="868.5" y="11.2" font-size="12.5" fill="#666" font-weight="bold" shape-rendering="geometricPrecision">A</text>
<rect x="896.5" y="-1.5" width="12" height="14" fill="none" stroke="#666" stroke-dasharray="1 1"/>
<text x="898.3" y="11.0" font-size="12" fill="#555" font-weight="bold" shape-rendering="geometricPrecision">T</text>
<g shape-rendering="geometricPrecision"><path d="M923,2.5 l3.2,-3.2 l3.2,3.2 l-3.2,3.2z M931,10 l3.2,-3.2 l3.2,3.2 l-3.2,3.2z" fill="#444"/><path d="M925.5,6.5 l3,3 l4.5,-5" fill="none" stroke="#444" stroke-width="1.2"/></g>
<polygon points="943.3,4.7 949.3,4.7 946.3,8.2" fill="#000" shape-rendering="geometricPrecision"/>
<rect x="955" y="0" width="1" height="16" fill="#a0a0a0"/>
<rect x="956" y="0" width="1" height="16" fill="#fff"/>
<rect x="959" y="0" width="4" height="1" fill="#b8b8b8"/>
<rect x="959" y="2" width="4" height="1" fill="#b8b8b8"/>
<rect x="959" y="4" width="4" height="1" fill="#b8b8b8"/>
<rect x="959" y="6" width="4" height="1" fill="#b8b8b8"/>
<rect x="959" y="8" width="4" height="1" fill="#b8b8b8"/>
<rect x="959" y="10" width="4" height="1" fill="#b8b8b8"/>
<rect x="959" y="12" width="4" height="1" fill="#b8b8b8"/>
<rect x="959" y="14" width="4" height="1" fill="#b8b8b8"/>
<rect x="1133" y="0" width="1" height="16" fill="#a0a0a0"/>
<rect x="1134" y="0" width="25" height="17" fill="#f8f8f8"/>
<text x="970.7" y="9.8" font-size="9.3" fill="#4a4a4a" textLength="12.8" lengthAdjust="spacingAndGlyphs" shape-rendering="geometricPrecision">M1</text>
<text x="998.6" y="9.8" font-size="9.3" fill="#4a4a4a" textLength="13.0" lengthAdjust="spacingAndGlyphs" shape-rendering="geometricPrecision">M5</text>
<text x="1024.5" y="9.8" font-size="9.3" fill="#4a4a4a" textLength="17.9" lengthAdjust="spacingAndGlyphs" shape-rendering="geometricPrecision">M15</text>
<text x="1052.6" y="9.8" font-size="9.3" fill="#4a4a4a" textLength="18.1" lengthAdjust="spacingAndGlyphs" shape-rendering="geometricPrecision">M30</text>
<text x="1083.5" y="9.8" font-size="9.3" fill="#4a4a4a" textLength="12.0" lengthAdjust="spacingAndGlyphs" shape-rendering="geometricPrecision">H1</text>
<text x="1110.3" y="9.8" font-size="9.3" fill="#4a4a4a" textLength="12.7" lengthAdjust="spacingAndGlyphs" shape-rendering="geometricPrecision">H4</text>
<text x="1139.7" y="9.8" font-size="9.3" fill="#4a4a4a" textLength="11.8" lengthAdjust="spacingAndGlyphs" shape-rendering="geometricPrecision">D1</text>
<text x="1166.8" y="9.8" font-size="9.3" fill="#4a4a4a" textLength="14.5" lengthAdjust="spacingAndGlyphs" shape-rendering="geometricPrecision">W1</text>
<text x="1193.6" y="9.8" font-size="9.3" fill="#4a4a4a" textLength="15.0" lengthAdjust="spacingAndGlyphs" shape-rendering="geometricPrecision">MN</text>
<rect x="1216" y="0" width="1" height="16" fill="#a0a0a0"/>
<rect x="1217" y="0" width="1" height="16" fill="#fff"/>
<g shape-rendering="geometricPrecision">
<line x1="1683.8" y1="6.5" x2="1679" y2="11" stroke="#2458c8" stroke-width="2.6" stroke-linecap="round"/>
<circle cx="1686.5" cy="3.7" r="3.8" fill="#fff" stroke="#2b62d0" stroke-width="1.4"/>
<path d="M1704,8 a5.5,4.5 0 0 1 11,0 a5.5,4.5 0 0 1 -7,4.2 l-1.8,2.3 l-0.2,-2.8 a5.5,4.5 0 0 1 -2,-3.7z" fill="#e4e6ee" stroke="#b8b8b8" stroke-width="0.9"/>
<circle cx="1717.3" cy="3" r="8.3" fill="#dc3018"/>
</g>
<text x="1717.3" y="8.0" font-size="12.5" fill="#fff" text-anchor="middle" font-weight="bold" font-family="'Liberation Serif',serif" shape-rendering="geometricPrecision">1</text>
</svg>
</body></html>
